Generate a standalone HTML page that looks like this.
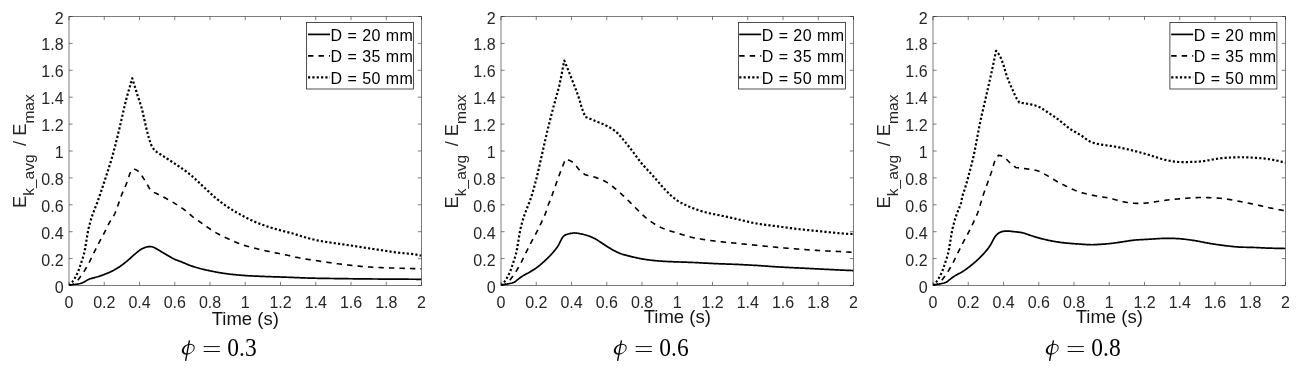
<!DOCTYPE html>
<html><head><meta charset="utf-8"><style>
html,body{margin:0;padding:0;background:#fff;}
body{width:1300px;height:371px;overflow:hidden;}
svg{display:block;}
#w{width:1300px;height:371px;will-change:transform;}
text{font-family:"Liberation Sans",sans-serif;}
.cap{font-family:"Liberation Serif",serif;}
</style></head><body><div id="w">
<svg width="1300" height="371" viewBox="0 0 1300 371">
<rect x="0" y="0" width="1300" height="371" fill="#fff"/>

<path d="M69.00 285.50V281.90M69.00 16.50V20.10M69.00 285.50H72.60M421.50 285.50H417.90M104.25 285.50V281.90M104.25 16.50V20.10M69.00 258.60H72.60M421.50 258.60H417.90M139.50 285.50V281.90M139.50 16.50V20.10M69.00 231.70H72.60M421.50 231.70H417.90M174.75 285.50V281.90M174.75 16.50V20.10M69.00 204.80H72.60M421.50 204.80H417.90M210.00 285.50V281.90M210.00 16.50V20.10M69.00 177.90H72.60M421.50 177.90H417.90M245.25 285.50V281.90M245.25 16.50V20.10M69.00 151.00H72.60M421.50 151.00H417.90M280.50 285.50V281.90M280.50 16.50V20.10M69.00 124.10H72.60M421.50 124.10H417.90M315.75 285.50V281.90M315.75 16.50V20.10M69.00 97.20H72.60M421.50 97.20H417.90M351.00 285.50V281.90M351.00 16.50V20.10M69.00 70.30H72.60M421.50 70.30H417.90M386.25 285.50V281.90M386.25 16.50V20.10M69.00 43.40H72.60M421.50 43.40H417.90M421.50 285.50V281.90M421.50 16.50V20.10M69.00 16.50H72.60M421.50 16.50H417.90" stroke="#262626" stroke-width="0.6" fill="none"/>
<rect x="69.00" y="16.50" width="352.50" height="269.00" fill="none" stroke="#262626" stroke-width="0.6"/>
<g font-size="16" fill="#262626"><text x="69.00" y="307.70" text-anchor="middle">0</text><text x="63.60" y="292.50" text-anchor="end">0</text><text x="104.25" y="307.70" text-anchor="middle">0.2</text><text x="63.60" y="265.60" text-anchor="end">0.2</text><text x="139.50" y="307.70" text-anchor="middle">0.4</text><text x="63.60" y="238.70" text-anchor="end">0.4</text><text x="174.75" y="307.70" text-anchor="middle">0.6</text><text x="63.60" y="211.80" text-anchor="end">0.6</text><text x="210.00" y="307.70" text-anchor="middle">0.8</text><text x="63.60" y="184.90" text-anchor="end">0.8</text><text x="245.25" y="307.70" text-anchor="middle">1</text><text x="63.60" y="158.00" text-anchor="end">1</text><text x="280.50" y="307.70" text-anchor="middle">1.2</text><text x="63.60" y="131.10" text-anchor="end">1.2</text><text x="315.75" y="307.70" text-anchor="middle">1.4</text><text x="63.60" y="104.20" text-anchor="end">1.4</text><text x="351.00" y="307.70" text-anchor="middle">1.6</text><text x="63.60" y="77.30" text-anchor="end">1.6</text><text x="386.25" y="307.70" text-anchor="middle">1.8</text><text x="63.60" y="50.40" text-anchor="end">1.8</text><text x="421.50" y="307.70" text-anchor="middle">2</text><text x="63.60" y="23.50" text-anchor="end">2</text></g>
<text x="245.25" y="324.50" font-size="18.5" fill="#141414" text-anchor="middle">Time (s)</text>
<text transform="translate(25.50 151.20) rotate(-90)" font-size="18.4" fill="#262626" text-anchor="middle">E<tspan font-size="15.5" dy="8.7">k_avg</tspan><tspan dy="-8.7" dx="3.3"> / E</tspan><tspan font-size="15.5" dy="8.7">max</tspan></text>
<clipPath id="clip0"><rect x="69.00" y="16.50" width="352.50" height="269.00"/></clipPath>
<g clip-path="url(#clip0)" fill="none" stroke="#000">
<path d="M69.00 284.96 L69.88 284.90 L70.76 284.83 L71.64 284.76 L72.50 284.69 L73.43 284.60 L74.39 284.50 L75.34 284.39 L76.27 284.28 L77.11 284.16 L77.93 284.04 L78.71 283.89 L79.48 283.73 L80.46 283.46 L81.44 283.14 L82.37 282.77 L83.27 282.37 L84.13 281.92 L84.99 281.43 L85.85 280.90 L86.72 280.37 L87.58 279.89 L88.36 279.51 L89.19 279.16 L90.19 278.80 L90.89 278.57 L91.70 278.34 L92.62 278.10 L93.64 277.84 L94.71 277.57 L95.78 277.29 L96.83 277.00 L97.81 276.72 L98.63 276.46 L99.44 276.20 L100.27 275.92 L101.10 275.63 L101.95 275.33 L102.79 275.03 L103.63 274.71 L104.46 274.39 L105.30 274.07 L106.15 273.73 L107.00 273.38 L107.84 273.03 L108.69 272.67 L109.53 272.30 L110.37 271.92 L111.20 271.53 L112.03 271.12 L112.86 270.70 L113.71 270.26 L114.57 269.79 L115.42 269.30 L116.27 268.81 L117.12 268.29 L117.96 267.77 L118.81 267.23 L119.66 266.67 L120.49 266.10 L121.25 265.56 L122.00 265.02 L122.76 264.46 L123.52 263.88 L124.28 263.28 L125.03 262.68 L125.79 262.07 L126.55 261.45 L127.31 260.82 L128.06 260.19 L128.74 259.60 L129.43 259.01 L130.13 258.39 L130.83 257.75 L131.53 257.11 L132.23 256.48 L132.92 255.85 L133.61 255.23 L134.28 254.64 L134.92 254.09 L135.56 253.54 L136.38 252.87 L137.21 252.18 L138.03 251.52 L138.82 250.90 L139.60 250.32 L140.39 249.78 L141.16 249.29 L141.96 248.84 L142.84 248.39 L143.79 247.97 L144.75 247.59 L145.70 247.27 L146.63 247.01 L147.50 246.82 L148.34 246.69 L149.25 246.60 L150.12 246.59 L150.96 246.64 L151.81 246.77 L152.69 246.98 L153.47 247.24 L154.26 247.57 L155.07 247.97 L155.91 248.44 L156.79 248.95 L157.68 249.48 L158.57 250.01 L159.34 250.46 L160.13 250.93 L160.96 251.43 L161.81 251.95 L162.69 252.49 L163.55 253.02 L164.42 253.54 L165.28 254.06 L166.12 254.57 L166.95 255.06 L167.80 255.57 L168.65 256.08 L169.52 256.59 L170.38 257.09 L171.23 257.57 L172.07 258.03 L172.88 258.44 L173.70 258.84 L174.62 259.25 L175.51 259.62 L176.35 259.94 L177.21 260.26 L178.10 260.58 L179.06 260.93 L180.07 261.32 L180.87 261.64 L181.69 261.98 L182.57 262.35 L183.48 262.74 L184.42 263.15 L185.38 263.56 L186.33 263.96 L187.29 264.36 L188.26 264.75 L189.20 265.12 L190.13 265.46 L191.01 265.78 L191.88 266.09 L192.77 266.39 L193.66 266.68 L194.56 266.97 L195.45 267.25 L196.35 267.52 L197.25 267.79 L198.15 268.05 L199.06 268.30 L199.97 268.55 L200.87 268.79 L201.75 269.01 L202.63 269.23 L203.50 269.44 L204.38 269.64 L205.27 269.84 L206.16 270.04 L207.08 270.23 L208.03 270.43 L209.04 270.64 L210.05 270.85 L210.89 271.02 L211.72 271.19 L212.57 271.36 L213.46 271.53 L214.36 271.71 L215.28 271.89 L216.20 272.06 L217.13 272.24 L218.08 272.41 L219.04 272.58 L220.01 272.75 L221.00 272.91 L221.98 273.07 L223.00 273.23 L224.03 273.39 L225.04 273.53 L225.92 273.65 L226.78 273.77 L227.68 273.88 L228.60 274.00 L229.54 274.11 L230.49 274.22 L231.44 274.32 L232.39 274.43 L233.36 274.53 L234.34 274.63 L235.31 274.72 L236.30 274.82 L237.29 274.91 L238.27 274.99 L239.25 275.08 L240.24 275.17 L241.22 275.25 L242.18 275.32 L243.15 275.40 L244.09 275.47 L245.05 275.54 L246.06 275.61 L247.06 275.68 L248.06 275.75 L249.06 275.80 L250.05 275.86 L251.05 275.91 L252.04 275.96 L253.04 276.01 L254.03 276.06 L255.03 276.10 L256.02 276.14 L257.02 276.18 L258.01 276.22 L259.01 276.26 L260.01 276.30 L261.00 276.33 L262.00 276.37 L263.01 276.41 L264.02 276.45 L265.03 276.49 L265.98 276.53 L266.90 276.56 L267.84 276.60 L268.78 276.63 L269.72 276.66 L270.66 276.70 L271.60 276.73 L272.54 276.76 L273.48 276.79 L274.42 276.82 L275.36 276.85 L276.31 276.88 L277.26 276.90 L278.22 276.93 L279.16 276.96 L280.13 277.00 L281.10 277.03 L282.08 277.06 L283.08 277.09 L284.10 277.13 L285.11 277.16 L286.05 277.20 L286.98 277.23 L287.93 277.27 L288.90 277.31 L289.88 277.34 L290.88 277.38 L291.88 277.42 L292.88 277.47 L293.88 277.51 L294.89 277.55 L295.90 277.59 L296.91 277.63 L297.92 277.67 L298.94 277.71 L299.95 277.75 L300.97 277.79 L301.98 277.83 L302.99 277.87 L304.00 277.91 L305.00 277.94 L306.00 277.98 L307.00 278.01 L307.98 278.04 L308.96 278.07 L309.93 278.10 L310.93 278.13 L311.94 278.15 L312.92 278.18 L313.89 278.20 L314.86 278.22 L315.80 278.24 L316.76 278.26 L317.71 278.28 L318.65 278.30 L319.60 278.31 L320.55 278.33 L321.50 278.35 L322.46 278.36 L323.40 278.37 L324.37 278.39 L325.34 278.40 L326.32 278.42 L327.33 278.43 L328.33 278.45 L329.34 278.46 L330.40 278.48 L331.49 278.49 L332.58 278.51 L333.46 278.52 L334.30 278.53 L335.18 278.55 L336.07 278.56 L336.97 278.57 L337.88 278.59 L338.79 278.60 L339.70 278.61 L340.62 278.62 L341.55 278.64 L342.47 278.65 L343.41 278.66 L344.35 278.67 L345.29 278.69 L346.24 278.70 L347.19 278.71 L348.15 278.72 L349.13 278.74 L350.11 278.75 L351.11 278.76 L352.10 278.77 L353.10 278.78 L354.11 278.80 L355.13 278.81 L356.16 278.82 L357.20 278.83 L358.24 278.84 L359.30 278.85 L360.36 278.86 L361.44 278.88 L362.55 278.89 L363.73 278.90 L364.87 278.91 L365.70 278.92 L366.52 278.93 L367.35 278.93 L368.23 278.94 L369.13 278.95 L370.04 278.96 L370.95 278.97 L371.87 278.97 L372.80 278.98 L373.74 278.99 L374.69 279.00 L375.64 279.00 L376.60 279.01 L377.55 279.02 L378.52 279.03 L379.50 279.03 L380.48 279.04 L381.49 279.05 L382.48 279.06 L383.48 279.06 L384.48 279.07 L385.49 279.08 L386.50 279.08 L387.51 279.09 L388.53 279.10 L389.56 279.10 L390.58 279.11 L391.61 279.12 L392.64 279.12 L393.67 279.13 L394.71 279.14 L395.75 279.14 L396.79 279.15 L397.83 279.16 L398.87 279.16 L399.91 279.17 L400.95 279.18 L401.99 279.18 L403.04 279.19 L404.08 279.20 L405.12 279.20 L406.16 279.21 L407.20 279.22 L408.24 279.22 L409.28 279.23 L410.31 279.24 L411.34 279.24 L412.38 279.25 L413.40 279.26 L414.43 279.26 L415.45 279.27 L416.47 279.28 L417.49 279.29 L418.50 279.29 L419.50 279.30 L420.50 279.31 L421.50 279.31" stroke-width="1.7" stroke-linejoin="round"/>
<path d="M69.00 285.50 L69.87 285.30 L70.73 285.08 L71.63 284.81 L72.47 284.54 L73.36 284.20 L74.26 283.77 L75.11 283.23 L75.75 282.71 L76.36 282.08 L76.98 281.34 L77.62 280.50 L78.27 279.61 L78.91 278.74 L79.44 278.02 L79.99 277.27 L80.56 276.49 L81.13 275.69 L81.73 274.85 L82.31 274.01 L82.90 273.14 L83.47 272.28 L83.99 271.48 L84.49 270.69 L84.98 269.91 L85.48 269.09 L85.98 268.26 L86.48 267.40 L87.00 266.49 L87.54 265.53 L88.07 264.56 L88.46 263.84 L88.84 263.11 L89.24 262.34 L89.65 261.53 L90.07 260.70 L90.49 259.85 L90.90 258.99 L91.32 258.13 L91.74 257.26 L92.17 256.39 L92.59 255.52 L93.01 254.66 L93.42 253.82 L93.84 252.98 L94.27 252.11 L94.72 251.22 L95.17 250.31 L95.62 249.40 L96.07 248.49 L96.53 247.58 L96.98 246.68 L97.44 245.76 L97.89 244.87 L98.33 243.99 L98.77 243.13 L99.19 242.31 L99.61 241.51 L100.02 240.73 L100.49 239.84 L100.96 238.98 L101.40 238.16 L101.84 237.38 L102.26 236.61 L102.69 235.85 L103.11 235.08 L103.54 234.30 L103.97 233.50 L104.40 232.66 L104.83 231.82 L105.26 230.95 L105.69 230.07 L106.12 229.18 L106.55 228.26 L106.98 227.36 L107.41 226.46 L107.85 225.55 L108.30 224.66 L108.76 223.79 L109.22 222.93 L109.67 222.14 L110.15 221.35 L110.64 220.57 L111.14 219.79 L111.65 219.01 L112.15 218.24 L112.65 217.46 L113.13 216.69 L113.59 215.91 L114.03 215.13 L114.44 214.34 L114.85 213.50 L115.23 212.66 L115.58 211.83 L115.91 211.00 L116.22 210.17 L116.53 209.33 L116.84 208.47 L117.16 207.58 L117.49 206.67 L117.82 205.73 L118.13 204.89 L118.43 204.03 L118.75 203.12 L119.07 202.19 L119.40 201.24 L119.73 200.28 L120.05 199.32 L120.38 198.36 L120.72 197.39 L121.06 196.45 L121.39 195.53 L121.73 194.64 L122.06 193.78 L122.44 192.85 L122.82 191.95 L123.20 191.07 L123.57 190.22 L123.96 189.37 L124.34 188.53 L124.72 187.70 L125.10 186.84 L125.49 185.95 L125.88 185.03 L126.26 184.09 L126.60 183.22 L126.94 182.29 L127.28 181.30 L127.63 180.26 L127.98 179.20 L128.32 178.14 L128.67 177.08 L129.02 176.03 L129.38 175.02 L129.73 174.06 L130.09 173.19 L130.42 172.46 L130.75 171.83 L131.10 171.27 L131.71 170.44 L132.32 169.72 L132.88 169.20 L133.51 168.62 L134.31 169.01 L135.11 169.36 L135.90 169.75 L136.65 170.16 L137.44 170.66 L138.22 171.25 L138.82 171.80 L139.41 172.42 L140.00 173.14 L140.60 173.93 L141.20 174.77 L141.79 175.66 L142.38 176.56 L142.96 177.48 L143.54 178.39 L144.11 179.29 L144.60 180.07 L145.09 180.87 L145.59 181.69 L146.09 182.53 L146.60 183.40 L147.10 184.26 L147.59 185.13 L148.09 186.00 L148.59 186.88 L149.08 187.75 L149.58 188.61 L150.07 189.47 L150.67 190.10 L151.31 190.71 L152.11 191.30 L152.71 191.69 L153.38 192.08 L154.15 192.47 L155.04 192.88 L156.01 193.34 L156.99 193.80 L157.73 194.16 L158.48 194.54 L159.31 194.95 L160.19 195.40 L161.11 195.86 L162.05 196.34 L162.99 196.82 L163.92 197.30 L164.87 197.80 L165.80 198.30 L166.70 198.78 L167.49 199.22 L168.28 199.65 L169.07 200.10 L169.87 200.55 L170.68 201.00 L171.48 201.47 L172.28 201.93 L173.09 202.41 L173.89 202.89 L174.70 203.38 L175.50 203.88 L176.31 204.38 L177.12 204.90 L177.96 205.44 L178.83 206.00 L179.69 206.57 L180.56 207.15 L181.43 207.73 L182.29 208.32 L183.15 208.91 L183.98 209.50 L184.78 210.07 L185.54 210.63 L186.23 211.15 L186.90 211.68 L187.67 212.31 L188.36 212.91 L188.98 213.47 L189.55 214.00 L190.13 214.54 L190.76 215.11 L191.46 215.72 L192.23 216.37 L192.86 216.87 L193.50 217.37 L194.19 217.88 L194.91 218.41 L195.67 218.96 L196.43 219.51 L197.23 220.07 L198.03 220.64 L198.85 221.20 L199.68 221.78 L200.50 222.35 L201.34 222.92 L202.17 223.49 L202.98 224.06 L203.74 224.58 L204.49 225.11 L205.26 225.65 L206.04 226.20 L206.84 226.75 L207.64 227.31 L208.45 227.87 L209.27 228.44 L210.08 228.99 L210.90 229.54 L211.73 230.09 L212.55 230.62 L213.37 231.15 L214.19 231.66 L215.00 232.15 L215.80 232.62 L216.66 233.11 L217.52 233.59 L218.39 234.06 L219.27 234.52 L220.14 234.97 L221.00 235.41 L221.86 235.83 L222.74 236.25 L223.61 236.67 L224.49 237.08 L225.36 237.49 L226.24 237.90 L227.10 238.29 L227.96 238.69 L228.83 239.08 L229.75 239.50 L230.68 239.92 L231.59 240.33 L232.49 240.74 L233.39 241.14 L234.30 241.53 L235.20 241.92 L236.11 242.30 L237.02 242.68 L237.94 243.05 L238.87 243.42 L239.82 243.78 L240.78 244.13 L241.76 244.48 L242.66 244.79 L243.55 245.08 L244.47 245.38 L245.39 245.66 L246.33 245.95 L247.29 246.23 L248.24 246.51 L249.20 246.77 L250.16 247.04 L251.12 247.30 L252.09 247.55 L253.05 247.80 L254.02 248.05 L254.98 248.30 L255.95 248.54 L256.90 248.78 L257.85 249.02 L258.78 249.25 L259.71 249.47 L260.64 249.68 L261.58 249.90 L262.51 250.11 L263.45 250.32 L264.39 250.52 L265.33 250.72 L266.26 250.92 L267.21 251.12 L268.16 251.33 L269.11 251.53 L270.09 251.73 L271.07 251.94 L272.05 252.15 L272.98 252.34 L273.92 252.53 L274.88 252.73 L275.86 252.93 L276.85 253.13 L277.84 253.33 L278.84 253.53 L279.83 253.73 L280.83 253.92 L281.82 254.12 L282.81 254.32 L283.80 254.51 L284.77 254.71 L285.73 254.90 L286.66 255.09 L287.55 255.27 L288.39 255.45 L289.25 255.63 L290.31 255.86 L291.36 256.10 L292.34 256.32 L293.28 256.54 L294.19 256.75 L295.08 256.96 L295.98 257.17 L296.87 257.37 L297.79 257.58 L298.76 257.79 L299.77 257.99 L300.82 258.20 L301.71 258.36 L302.59 258.52 L303.51 258.68 L304.44 258.83 L305.40 258.99 L306.37 259.14 L307.35 259.29 L308.34 259.44 L309.33 259.59 L310.33 259.74 L311.32 259.88 L312.32 260.03 L313.32 260.18 L314.31 260.32 L315.32 260.47 L316.31 260.62 L317.25 260.77 L318.19 260.91 L319.12 261.05 L320.07 261.20 L321.02 261.34 L321.98 261.49 L322.93 261.64 L323.89 261.78 L324.85 261.93 L325.80 262.07 L326.76 262.21 L327.72 262.36 L328.68 262.50 L329.63 262.63 L330.59 262.77 L331.55 262.91 L332.50 263.04 L333.44 263.17 L334.39 263.30 L335.33 263.42 L336.27 263.55 L337.21 263.67 L338.16 263.79 L339.10 263.92 L340.04 264.04 L340.98 264.15 L341.92 264.27 L342.87 264.39 L343.81 264.50 L344.75 264.62 L345.70 264.73 L346.64 264.84 L347.58 264.95 L348.53 265.05 L349.48 265.16 L350.43 265.27 L351.39 265.37 L352.34 265.48 L353.29 265.58 L354.25 265.68 L355.20 265.78 L356.15 265.88 L357.11 265.98 L358.06 266.07 L359.02 266.16 L359.97 266.25 L360.93 266.34 L361.88 266.43 L362.84 266.51 L363.79 266.59 L364.75 266.67 L365.70 266.74 L366.65 266.81 L367.61 266.88 L368.56 266.94 L369.51 267.01 L370.47 267.07 L371.42 267.12 L372.38 267.18 L373.33 267.23 L374.28 267.28 L375.24 267.33 L376.19 267.38 L377.15 267.43 L378.10 267.48 L379.06 267.52 L380.01 267.57 L380.97 267.61 L381.92 267.65 L382.86 267.69 L383.79 267.73 L384.71 267.76 L385.63 267.80 L386.55 267.83 L387.47 267.86 L388.39 267.89 L389.32 267.92 L390.25 267.95 L391.18 267.97 L392.14 268.00 L393.10 268.03 L394.08 268.06 L395.13 268.09 L396.19 268.12 L397.25 268.15 L398.11 268.18 L398.96 268.20 L399.85 268.23 L400.77 268.26 L401.71 268.28 L402.66 268.31 L403.60 268.34 L404.57 268.36 L405.55 268.39 L406.53 268.42 L407.53 268.44 L408.53 268.47 L409.53 268.50 L410.53 268.53 L411.53 268.55 L412.54 268.58 L413.55 268.61 L414.55 268.63 L415.56 268.66 L416.56 268.69 L417.56 268.71 L418.56 268.74 L419.54 268.77 L420.53 268.80 L421.50 268.82" stroke-width="1.6" stroke-dasharray="5.4 5.1" stroke-linejoin="round"/>
<path d="M69.00 285.50 L69.23 285.19 L69.49 284.90 L69.89 284.52 L70.39 284.03 L70.95 283.44 L71.49 282.84 L72.07 282.14 L72.69 281.34 L73.31 280.47 L73.92 279.59 L74.47 278.72 L74.95 277.95 L75.39 277.18 L75.85 276.36 L76.29 275.51 L76.74 274.62 L77.20 273.65 L77.64 272.67 L77.98 271.86 L78.33 271.00 L78.66 270.11 L79.01 269.17 L79.35 268.19 L79.68 267.22 L80.01 266.23 L80.34 265.24 L80.68 264.24 L81.00 263.26 L81.30 262.38 L81.60 261.49 L81.90 260.60 L82.21 259.69 L82.51 258.78 L82.81 257.86 L83.10 256.94 L83.38 256.02 L83.64 255.10 L83.90 254.18 L84.13 253.25 L84.36 252.28 L84.58 251.28 L84.78 250.27 L84.97 249.26 L85.15 248.24 L85.32 247.23 L85.49 246.21 L85.64 245.22 L85.80 244.27 L85.95 243.35 L86.10 242.47 L86.26 241.47 L86.43 240.48 L86.58 239.54 L86.73 238.63 L86.88 237.74 L87.03 236.87 L87.17 236.01 L87.32 235.13 L87.49 234.12 L87.68 233.07 L87.87 231.99 L88.05 230.98 L88.23 230.01 L88.41 229.12 L88.59 228.31 L88.80 227.41 L89.01 226.56 L89.22 225.79 L89.44 224.98 L89.71 224.05 L89.96 223.12 L90.22 222.17 L90.48 221.25 L90.74 220.32 L91.01 219.39 L91.29 218.47 L91.58 217.56 L91.86 216.69 L92.15 215.84 L92.45 214.99 L92.75 214.15 L93.06 213.30 L93.38 212.44 L93.71 211.56 L94.05 210.68 L94.36 209.88 L94.66 209.12 L94.96 208.39 L95.26 207.64 L95.57 206.89 L95.90 206.07 L96.26 205.17 L96.65 204.15 L97.06 203.06 L97.31 202.40 L97.55 201.73 L97.81 201.01 L98.09 200.22 L98.38 199.39 L98.68 198.53 L98.99 197.66 L99.30 196.76 L99.62 195.83 L99.94 194.89 L100.27 193.92 L100.60 192.95 L100.93 191.97 L101.26 190.97 L101.60 189.97 L101.93 188.97 L102.27 187.96 L102.60 186.95 L102.94 185.93 L103.27 184.92 L103.60 183.91 L103.94 182.88 L104.27 181.88 L104.55 181.00 L104.84 180.13 L105.13 179.25 L105.42 178.35 L105.72 177.43 L106.03 176.51 L106.33 175.57 L106.64 174.63 L106.94 173.68 L107.25 172.74 L107.56 171.79 L107.86 170.84 L108.17 169.88 L108.48 168.92 L108.78 167.96 L109.09 166.99 L109.39 166.02 L109.70 165.05 L110.00 164.08 L110.30 163.11 L110.60 162.13 L110.89 161.16 L111.19 160.19 L111.48 159.21 L111.77 158.24 L112.05 157.27 L112.33 156.29 L112.61 155.32 L112.89 154.35 L113.15 153.41 L113.41 152.46 L113.67 151.50 L113.93 150.54 L114.19 149.57 L114.44 148.61 L114.70 147.64 L114.95 146.66 L115.20 145.69 L115.45 144.71 L115.69 143.74 L115.93 142.76 L116.18 141.78 L116.42 140.80 L116.66 139.83 L116.90 138.85 L117.13 137.88 L117.37 136.90 L117.60 135.93 L117.83 134.96 L118.07 133.99 L118.30 133.02 L118.53 132.06 L118.76 131.10 L118.99 130.13 L119.21 129.18 L119.44 128.25 L119.66 127.31 L119.88 126.40 L120.10 125.48 L120.35 124.47 L120.58 123.47 L120.82 122.48 L121.04 121.50 L121.27 120.52 L121.49 119.54 L121.72 118.57 L121.94 117.60 L122.15 116.64 L122.37 115.67 L122.59 114.71 L122.80 113.75 L123.02 112.78 L123.24 111.83 L123.46 110.88 L123.67 109.93 L123.89 108.99 L124.11 108.05 L124.33 107.10 L124.55 106.16 L124.77 105.23 L125.00 104.29 L125.23 103.36 L125.46 102.43 L125.69 101.51 L125.93 100.59 L126.18 99.63 L126.43 98.67 L126.69 97.69 L126.95 96.75 L127.21 95.81 L127.47 94.87 L127.72 93.95 L127.99 93.02 L128.25 92.09 L128.52 91.16 L128.79 90.24 L129.05 89.31 L129.32 88.39 L129.59 87.47 L129.86 86.55 L130.13 85.63 L130.40 84.71 L130.67 83.79 L130.94 82.86 L131.21 81.94 L131.47 81.03 L131.74 80.11 L132.01 79.17 L132.27 78.24 L132.56 79.17 L132.85 80.11 L133.13 81.05 L133.41 81.96 L133.70 82.90 L133.98 83.83 L134.26 84.76 L134.54 85.68 L134.83 86.61 L135.11 87.54 L135.40 88.47 L135.69 89.42 L135.98 90.37 L136.28 91.31 L136.57 92.25 L136.87 93.19 L137.15 94.07 L137.44 94.97 L137.73 95.87 L138.03 96.78 L138.34 97.69 L138.65 98.61 L138.95 99.52 L139.26 100.44 L139.57 101.35 L139.87 102.26 L140.16 103.17 L140.46 104.07 L140.74 104.97 L141.02 105.87 L141.28 106.74 L141.53 107.60 L141.77 108.45 L142.03 109.42 L142.28 110.41 L142.53 111.38 L142.76 112.37 L142.98 113.33 L143.20 114.28 L143.40 115.23 L143.61 116.15 L143.81 117.08 L144.00 118.00 L144.20 118.91 L144.39 119.78 L144.58 120.62 L144.77 121.47 L145.01 122.52 L145.26 123.57 L145.49 124.59 L145.72 125.56 L145.94 126.53 L146.16 127.47 L146.39 128.41 L146.62 129.35 L146.85 130.29 L147.08 131.24 L147.32 132.16 L147.55 133.08 L147.79 134.01 L148.03 134.95 L148.28 135.87 L148.53 136.79 L148.78 137.68 L149.03 138.54 L149.27 139.35 L149.53 140.16 L149.86 141.19 L150.20 142.22 L150.54 143.23 L150.89 144.16 L151.26 145.06 L151.66 145.92 L152.08 146.72 L152.53 147.47 L152.98 148.15 L153.45 148.78 L153.96 149.40 L154.55 150.04 L155.21 150.68 L155.84 151.23 L156.52 151.77 L157.26 152.30 L158.06 152.83 L158.90 153.37 L159.76 153.91 L160.66 154.47 L161.57 155.04 L162.46 155.61 L163.21 156.10 L163.96 156.59 L164.74 157.10 L165.56 157.64 L166.40 158.18 L167.25 158.74 L168.10 159.29 L168.94 159.84 L169.79 160.39 L170.63 160.95 L171.47 161.49 L172.30 162.04 L173.11 162.57 L173.92 163.10 L174.74 163.64 L175.54 164.16 L176.35 164.69 L177.16 165.23 L177.97 165.76 L178.78 166.30 L179.59 166.84 L180.39 167.39 L181.19 167.94 L181.99 168.50 L182.77 169.04 L183.53 169.59 L184.29 170.12 L185.04 170.66 L185.78 171.20 L186.53 171.75 L187.28 172.31 L188.02 172.87 L188.78 173.46 L189.56 174.07 L190.37 174.73 L191.19 175.40 L191.83 175.94 L192.48 176.49 L193.14 177.08 L193.82 177.68 L194.51 178.31 L195.20 178.94 L195.89 179.59 L196.59 180.24 L197.29 180.90 L197.99 181.57 L198.70 182.24 L199.41 182.91 L200.12 183.58 L200.83 184.25 L201.54 184.92 L202.25 185.58 L202.95 186.24 L203.65 186.89 L204.35 187.54 L205.04 188.19 L205.74 188.86 L206.45 189.53 L207.16 190.20 L207.88 190.89 L208.59 191.56 L209.31 192.24 L210.02 192.91 L210.75 193.59 L211.47 194.25 L212.19 194.91 L212.92 195.57 L213.64 196.20 L214.36 196.83 L215.09 197.46 L215.82 198.07 L216.57 198.68 L217.32 199.30 L218.08 199.91 L218.84 200.51 L219.60 201.10 L220.36 201.69 L221.13 202.27 L221.90 202.85 L222.66 203.42 L223.44 203.99 L224.21 204.54 L224.98 205.10 L225.76 205.64 L226.53 206.18 L227.30 206.71 L228.05 207.22 L228.82 207.73 L229.68 208.29 L230.54 208.84 L231.41 209.39 L232.26 209.91 L233.11 210.43 L233.97 210.94 L234.82 211.44 L235.68 211.94 L236.54 212.43 L237.40 212.92 L238.26 213.40 L239.13 213.87 L239.99 214.35 L240.86 214.82 L241.73 215.29 L242.59 215.75 L243.45 216.21 L244.31 216.67 L245.19 217.12 L246.06 217.57 L246.92 218.02 L247.79 218.46 L248.65 218.89 L249.53 219.32 L250.40 219.74 L251.27 220.15 L252.15 220.56 L253.01 220.96 L253.87 221.35 L254.74 221.73 L255.66 222.12 L256.60 222.52 L257.51 222.89 L258.43 223.26 L259.34 223.62 L260.26 223.97 L261.18 224.32 L262.09 224.66 L263.01 224.99 L263.94 225.32 L264.86 225.64 L265.79 225.97 L266.72 226.28 L267.65 226.59 L268.57 226.89 L269.49 227.18 L270.41 227.47 L271.34 227.75 L272.28 228.02 L273.21 228.29 L274.14 228.56 L275.08 228.82 L276.01 229.08 L276.95 229.34 L277.88 229.59 L278.81 229.85 L279.75 230.10 L280.66 230.35 L281.58 230.60 L282.53 230.85 L283.48 231.10 L284.46 231.35 L285.43 231.60 L286.41 231.85 L287.37 232.09 L288.33 232.33 L289.27 232.57 L290.18 232.81 L291.07 233.04 L291.91 233.27 L292.71 233.49 L293.50 233.72 L294.52 234.02 L295.47 234.31 L296.31 234.58 L297.11 234.84 L297.91 235.10 L298.78 235.38 L299.77 235.69 L300.85 236.02 L301.58 236.24 L302.32 236.46 L303.10 236.69 L303.95 236.93 L304.84 237.19 L305.74 237.45 L306.67 237.71 L307.62 237.98 L308.58 238.24 L309.56 238.51 L310.53 238.77 L311.50 239.02 L312.48 239.27 L313.46 239.51 L314.42 239.75 L315.37 239.96 L316.30 240.17 L317.22 240.36 L318.16 240.55 L319.11 240.74 L320.06 240.91 L321.01 241.08 L321.96 241.25 L322.92 241.41 L323.88 241.56 L324.84 241.71 L325.80 241.86 L326.75 242.00 L327.71 242.15 L328.67 242.29 L329.63 242.43 L330.59 242.58 L331.55 242.72 L332.50 242.86 L333.44 243.01 L334.39 243.15 L335.33 243.28 L336.27 243.42 L337.21 243.56 L338.16 243.69 L339.10 243.82 L340.04 243.95 L340.98 244.08 L341.93 244.21 L342.87 244.34 L343.81 244.47 L344.75 244.60 L345.70 244.74 L346.64 244.87 L347.58 245.01 L348.53 245.15 L349.48 245.30 L350.43 245.44 L351.39 245.59 L352.34 245.74 L353.30 245.89 L354.25 246.04 L355.20 246.19 L356.16 246.34 L357.11 246.50 L358.07 246.65 L359.02 246.80 L359.98 246.96 L360.93 247.11 L361.89 247.26 L362.84 247.41 L363.79 247.56 L364.75 247.70 L365.70 247.85 L366.66 248.00 L367.61 248.14 L368.56 248.28 L369.52 248.43 L370.47 248.57 L371.42 248.71 L372.38 248.85 L373.33 248.99 L374.29 249.14 L375.24 249.28 L376.19 249.42 L377.15 249.56 L378.10 249.70 L379.05 249.84 L380.01 249.98 L380.96 250.13 L381.92 250.27 L382.87 250.42 L383.82 250.57 L384.78 250.71 L385.73 250.86 L386.68 251.01 L387.64 251.16 L388.59 251.31 L389.54 251.46 L390.50 251.61 L391.45 251.75 L392.41 251.89 L393.36 252.03 L394.31 252.16 L395.27 252.30 L396.21 252.42 L397.16 252.54 L398.11 252.65 L399.09 252.76 L400.10 252.87 L401.10 252.97 L402.11 253.06 L403.13 253.15 L404.14 253.24 L405.14 253.33 L406.16 253.42 L407.15 253.50 L408.13 253.59 L409.08 253.68 L410.01 253.77 L410.91 253.87 L411.75 253.96 L412.54 254.06 L413.32 254.16 L414.39 254.32 L415.42 254.49 L416.35 254.65 L417.23 254.81 L418.07 254.98 L418.88 255.13 L419.73 255.30 L420.61 255.47 L421.50 255.64" stroke-width="2.2" stroke-dasharray="2.2 2.14" stroke-linejoin="round"/>
</g>
<rect x="306.50" y="22.50" width="107.00" height="66.50" fill="#fff" stroke="#262626" stroke-width="0.8"/>
<path d="M308.00 34.40H330.00" stroke="#000" stroke-width="1.7" fill="none"/>
<text x="330.50" y="40.50" font-size="16" letter-spacing="0.47" fill="#000">D = 20 mm</text>
<path d="M308.00 55.90H330.00" stroke="#000" stroke-width="1.6" stroke-dasharray="5.4 5.1" fill="none"/>
<text x="330.50" y="62.00" font-size="16" letter-spacing="0.47" fill="#000">D = 35 mm</text>
<path d="M308.00 77.40H330.00" stroke="#000" stroke-width="2.2" stroke-dasharray="2.2 2.14" fill="none"/>
<text x="330.50" y="83.50" font-size="16" letter-spacing="0.47" fill="#000">D = 50 mm</text>
<path fill="#000" fill-rule="evenodd" transform="translate(188.20 349.2) skewX(-20)" d="M-6.20 0.00a6.20 5.45 0 1 0 12.40 0a6.20 5.45 0 1 0 -12.40 0ZM-4.20 -0.10a4.75 4.35 0 1 0 9.50 0a4.75 4.35 0 1 0 -9.50 0Z"/>
<path d="M189.45 340.3L185.60 360.8" stroke="#000" stroke-width="1.35" fill="none"/>
<path d="M203.70 346.6H219.90M203.70 351.5H219.90" stroke="#000" stroke-width="0.95" fill="none"/>
<text class="cap" transform="translate(227.30 355.6) scale(0.9 1)" font-size="26.1" fill="#000">0.3</text>
<path d="M501.00 285.50V281.90M501.00 16.50V20.10M501.00 285.50H504.60M853.50 285.50H849.90M536.25 285.50V281.90M536.25 16.50V20.10M501.00 258.60H504.60M853.50 258.60H849.90M571.50 285.50V281.90M571.50 16.50V20.10M501.00 231.70H504.60M853.50 231.70H849.90M606.75 285.50V281.90M606.75 16.50V20.10M501.00 204.80H504.60M853.50 204.80H849.90M642.00 285.50V281.90M642.00 16.50V20.10M501.00 177.90H504.60M853.50 177.90H849.90M677.25 285.50V281.90M677.25 16.50V20.10M501.00 151.00H504.60M853.50 151.00H849.90M712.50 285.50V281.90M712.50 16.50V20.10M501.00 124.10H504.60M853.50 124.10H849.90M747.75 285.50V281.90M747.75 16.50V20.10M501.00 97.20H504.60M853.50 97.20H849.90M783.00 285.50V281.90M783.00 16.50V20.10M501.00 70.30H504.60M853.50 70.30H849.90M818.25 285.50V281.90M818.25 16.50V20.10M501.00 43.40H504.60M853.50 43.40H849.90M853.50 285.50V281.90M853.50 16.50V20.10M501.00 16.50H504.60M853.50 16.50H849.90" stroke="#262626" stroke-width="0.6" fill="none"/>
<rect x="501.00" y="16.50" width="352.50" height="269.00" fill="none" stroke="#262626" stroke-width="0.6"/>
<g font-size="16" fill="#262626"><text x="501.00" y="307.70" text-anchor="middle">0</text><text x="495.60" y="292.50" text-anchor="end">0</text><text x="536.25" y="307.70" text-anchor="middle">0.2</text><text x="495.60" y="265.60" text-anchor="end">0.2</text><text x="571.50" y="307.70" text-anchor="middle">0.4</text><text x="495.60" y="238.70" text-anchor="end">0.4</text><text x="606.75" y="307.70" text-anchor="middle">0.6</text><text x="495.60" y="211.80" text-anchor="end">0.6</text><text x="642.00" y="307.70" text-anchor="middle">0.8</text><text x="495.60" y="184.90" text-anchor="end">0.8</text><text x="677.25" y="307.70" text-anchor="middle">1</text><text x="495.60" y="158.00" text-anchor="end">1</text><text x="712.50" y="307.70" text-anchor="middle">1.2</text><text x="495.60" y="131.10" text-anchor="end">1.2</text><text x="747.75" y="307.70" text-anchor="middle">1.4</text><text x="495.60" y="104.20" text-anchor="end">1.4</text><text x="783.00" y="307.70" text-anchor="middle">1.6</text><text x="495.60" y="77.30" text-anchor="end">1.6</text><text x="818.25" y="307.70" text-anchor="middle">1.8</text><text x="495.60" y="50.40" text-anchor="end">1.8</text><text x="853.50" y="307.70" text-anchor="middle">2</text><text x="495.60" y="23.50" text-anchor="end">2</text></g>
<text x="677.25" y="323.00" font-size="18.5" fill="#141414" text-anchor="middle">Time (s)</text>
<text transform="translate(457.50 151.50) rotate(-90)" font-size="18.4" fill="#262626" text-anchor="middle">E<tspan font-size="15.5" dy="8.7">k_avg</tspan><tspan dy="-8.7" dx="3.3"> / E</tspan><tspan font-size="15.5" dy="8.7">max</tspan></text>
<clipPath id="clip1"><rect x="501.00" y="16.50" width="352.50" height="269.00"/></clipPath>
<g clip-path="url(#clip1)" fill="none" stroke="#000">
<path d="M501.00 284.83 L501.67 284.74 L502.30 284.66 L503.02 284.57 L503.80 284.48 L504.78 284.36 L505.86 284.22 L506.99 284.05 L508.07 283.86 L508.98 283.69 L509.95 283.48 L510.99 283.23 L512.06 282.95 L513.07 282.63 L513.99 282.27 L514.78 281.87 L515.48 281.43 L516.10 280.97 L516.69 280.47 L517.32 279.93 L518.02 279.35 L518.64 278.85 L519.32 278.33 L520.04 277.79 L520.81 277.24 L521.60 276.68 L522.39 276.15 L523.16 275.64 L523.92 275.18 L524.76 274.69 L525.60 274.24 L526.44 273.82 L527.27 273.40 L528.13 272.98 L529.01 272.52 L529.91 272.02 L530.70 271.57 L531.49 271.10 L532.31 270.59 L533.14 270.06 L533.98 269.52 L534.83 268.95 L535.67 268.38 L536.51 267.78 L537.33 267.17 L538.08 266.60 L538.82 266.02 L539.54 265.43 L540.29 264.82 L541.03 264.18 L541.77 263.54 L542.51 262.88 L543.26 262.21 L544.00 261.53 L544.73 260.86 L545.41 260.23 L546.09 259.60 L546.78 258.94 L547.47 258.28 L548.16 257.60 L548.85 256.92 L549.53 256.23 L550.19 255.55 L550.85 254.86 L551.48 254.17 L552.11 253.48 L552.74 252.76 L553.36 252.05 L553.96 251.34 L554.54 250.63 L555.11 249.91 L555.67 249.19 L556.23 248.45 L556.78 247.70 L557.34 246.92 L557.88 246.10 L558.38 245.30 L558.89 244.41 L559.38 243.47 L559.86 242.49 L560.34 241.49 L560.82 240.50 L561.32 239.52 L561.83 238.59 L562.35 237.73 L562.88 236.99 L563.42 236.37 L563.98 235.85 L564.75 235.30 L565.60 234.84 L566.48 234.48 L567.37 234.20 L568.25 233.97 L569.10 233.77 L569.91 233.58 L570.83 233.38 L571.70 233.22 L572.55 233.09 L573.43 233.00 L574.34 232.97 L575.13 232.98 L575.94 233.03 L576.77 233.12 L577.64 233.24 L578.54 233.39 L579.44 233.56 L580.32 233.73 L581.15 233.90 L582.00 234.08 L582.86 234.28 L583.73 234.49 L584.60 234.72 L585.47 234.96 L586.33 235.21 L587.18 235.48 L588.03 235.76 L588.88 236.06 L589.72 236.37 L590.56 236.69 L591.39 237.04 L592.21 237.39 L593.03 237.77 L593.85 238.16 L594.70 238.61 L595.54 239.07 L596.39 239.56 L597.23 240.07 L598.08 240.60 L598.93 241.14 L599.78 241.68 L600.62 242.22 L601.36 242.70 L602.11 243.20 L602.87 243.71 L603.63 244.22 L604.40 244.75 L605.17 245.26 L605.93 245.77 L606.68 246.26 L607.42 246.73 L608.27 247.26 L609.12 247.79 L609.96 248.29 L610.81 248.80 L611.64 249.27 L612.48 249.75 L613.32 250.21 L614.17 250.66 L615.00 251.09 L615.82 251.51 L616.65 251.92 L617.49 252.32 L618.33 252.70 L619.16 253.06 L619.97 253.40 L620.81 253.71 L621.76 254.05 L622.73 254.36 L623.71 254.64 L624.67 254.90 L625.63 255.15 L626.59 255.40 L627.55 255.64 L628.51 255.88 L629.46 256.12 L630.41 256.35 L631.38 256.59 L632.35 256.82 L633.34 257.05 L634.31 257.27 L635.14 257.46 L635.97 257.65 L636.82 257.84 L637.68 258.02 L638.54 258.21 L639.39 258.39 L640.24 258.56 L641.09 258.72 L642.04 258.90 L642.96 259.06 L643.84 259.21 L644.74 259.36 L645.70 259.51 L646.77 259.66 L647.91 259.82 L648.68 259.92 L649.48 260.01 L650.33 260.12 L651.24 260.22 L652.21 260.32 L653.19 260.43 L654.19 260.53 L655.21 260.63 L656.23 260.73 L657.24 260.82 L658.26 260.91 L659.28 261.00 L660.27 261.08 L661.24 261.15 L662.20 261.22 L663.14 261.28 L664.10 261.34 L665.05 261.40 L666.01 261.45 L666.96 261.50 L667.92 261.54 L668.87 261.58 L669.84 261.63 L670.81 261.67 L671.79 261.71 L672.80 261.75 L673.81 261.79 L674.82 261.83 L675.76 261.87 L676.67 261.90 L677.60 261.93 L678.52 261.96 L679.45 262.00 L680.38 262.02 L681.32 262.05 L682.26 262.08 L683.22 262.11 L684.19 262.14 L685.18 262.17 L686.20 262.21 L687.22 262.24 L688.30 262.28 L689.44 262.33 L690.58 262.37 L691.39 262.41 L692.20 262.44 L693.06 262.48 L693.97 262.52 L694.91 262.57 L695.85 262.62 L696.82 262.66 L697.81 262.71 L698.80 262.76 L699.82 262.82 L700.83 262.87 L701.85 262.92 L702.87 262.98 L703.90 263.03 L704.93 263.08 L705.96 263.14 L706.98 263.19 L708.00 263.24 L709.02 263.30 L710.03 263.35 L711.04 263.40 L712.04 263.45 L713.01 263.50 L713.98 263.54 L714.91 263.59 L715.82 263.63 L716.67 263.67 L717.54 263.71 L718.62 263.75 L719.70 263.80 L720.74 263.84 L721.75 263.87 L722.74 263.91 L723.71 263.94 L724.68 263.97 L725.62 264.00 L726.56 264.04 L727.50 264.07 L728.44 264.10 L729.38 264.13 L730.32 264.16 L731.26 264.19 L732.21 264.23 L733.17 264.26 L734.14 264.30 L735.13 264.34 L736.13 264.39 L737.08 264.43 L738.02 264.47 L738.98 264.51 L739.94 264.56 L740.90 264.61 L741.86 264.65 L742.83 264.70 L743.79 264.75 L744.76 264.80 L745.74 264.85 L746.71 264.90 L747.70 264.95 L748.68 265.01 L749.66 265.06 L750.65 265.12 L751.63 265.17 L752.62 265.23 L753.60 265.28 L754.59 265.34 L755.58 265.40 L756.57 265.46 L757.54 265.52 L758.51 265.58 L759.48 265.65 L760.46 265.71 L761.45 265.78 L762.43 265.85 L763.41 265.92 L764.40 265.99 L765.39 266.06 L766.38 266.13 L767.37 266.20 L768.36 266.27 L769.35 266.34 L770.34 266.41 L771.33 266.48 L772.32 266.55 L773.31 266.62 L774.30 266.69 L775.29 266.75 L776.27 266.82 L777.26 266.88 L778.24 266.94 L779.22 266.99 L780.20 267.05 L781.18 267.10 L782.16 267.16 L783.13 267.21 L784.11 267.26 L785.09 267.31 L786.07 267.36 L787.04 267.41 L788.02 267.45 L789.00 267.50 L789.97 267.55 L790.95 267.59 L791.93 267.64 L792.90 267.69 L793.88 267.73 L794.86 267.78 L795.84 267.83 L796.81 267.87 L797.79 267.92 L798.77 267.97 L799.74 268.02 L800.72 268.06 L801.70 268.11 L802.68 268.16 L803.65 268.21 L804.63 268.26 L805.61 268.31 L806.58 268.36 L807.56 268.41 L808.54 268.46 L809.51 268.50 L810.49 268.55 L811.47 268.60 L812.44 268.65 L813.42 268.70 L814.40 268.75 L815.38 268.80 L816.35 268.85 L817.33 268.90 L818.31 268.94 L819.29 268.99 L820.26 269.04 L821.24 269.09 L822.22 269.14 L823.23 269.19 L824.25 269.24 L825.28 269.29 L826.31 269.35 L827.36 269.40 L828.40 269.45 L829.45 269.51 L830.49 269.56 L831.53 269.61 L832.57 269.67 L833.60 269.72 L834.62 269.77 L835.64 269.82 L836.63 269.87 L837.61 269.92 L838.57 269.96 L839.49 270.01 L840.39 270.05 L841.24 270.09 L842.02 270.13 L842.81 270.16 L843.96 270.21 L845.10 270.26 L846.14 270.30 L847.10 270.34 L848.03 270.37 L848.92 270.40 L849.82 270.44 L850.69 270.47 L851.60 270.50 L852.55 270.53 L853.50 270.57" stroke-width="1.7" stroke-linejoin="round"/>
<path d="M501.00 285.50 L501.87 285.30 L502.73 285.08 L503.63 284.81 L504.47 284.54 L505.36 284.20 L506.26 283.77 L507.11 283.23 L507.75 282.71 L508.36 282.08 L508.98 281.34 L509.62 280.50 L510.27 279.61 L510.91 278.74 L511.44 278.02 L511.99 277.27 L512.56 276.49 L513.13 275.69 L513.73 274.85 L514.31 274.01 L514.90 273.14 L515.47 272.28 L515.99 271.48 L516.49 270.69 L516.98 269.91 L517.48 269.09 L517.98 268.26 L518.48 267.40 L519.00 266.49 L519.54 265.53 L520.07 264.56 L520.46 263.84 L520.84 263.11 L521.24 262.34 L521.65 261.53 L522.07 260.70 L522.49 259.85 L522.90 258.99 L523.32 258.13 L523.74 257.26 L524.17 256.39 L524.59 255.52 L525.01 254.66 L525.42 253.82 L525.84 252.98 L526.27 252.11 L526.72 251.22 L527.17 250.31 L527.62 249.40 L528.07 248.49 L528.53 247.58 L528.98 246.68 L529.44 245.76 L529.89 244.87 L530.33 243.99 L530.77 243.13 L531.19 242.31 L531.61 241.51 L532.02 240.73 L532.49 239.84 L532.96 238.98 L533.40 238.16 L533.84 237.38 L534.26 236.61 L534.69 235.85 L535.11 235.08 L535.54 234.30 L535.97 233.50 L536.41 232.66 L536.84 231.83 L537.28 230.96 L537.72 230.09 L538.16 229.21 L538.61 228.31 L539.05 227.41 L539.49 226.51 L539.92 225.60 L540.35 224.71 L540.78 223.81 L541.20 222.93 L541.60 222.09 L542.00 221.24 L542.40 220.39 L542.80 219.54 L543.19 218.68 L543.58 217.83 L543.96 216.98 L544.34 216.12 L544.70 215.26 L545.06 214.40 L545.40 213.54 L545.72 212.68 L546.04 211.79 L546.35 210.88 L546.65 209.96 L546.94 209.04 L547.22 208.13 L547.51 207.23 L547.78 206.37 L548.05 205.56 L548.32 204.80 L548.59 204.05 L548.98 203.05 L549.36 202.16 L549.71 201.35 L550.06 200.54 L550.46 199.60 L550.89 198.54 L551.17 197.81 L551.46 197.06 L551.75 196.25 L552.06 195.39 L552.38 194.47 L552.71 193.53 L553.05 192.57 L553.39 191.58 L553.73 190.59 L554.07 189.60 L554.43 188.58 L554.79 187.56 L555.14 186.57 L555.43 185.75 L555.72 184.94 L556.02 184.08 L556.34 183.20 L556.66 182.31 L556.98 181.40 L557.31 180.49 L557.63 179.58 L557.96 178.67 L558.29 177.76 L558.62 176.85 L558.95 175.94 L559.28 175.04 L559.61 174.16 L559.93 173.29 L560.25 172.45 L560.56 171.62 L560.92 170.67 L561.28 169.73 L561.64 168.81 L562.00 167.89 L562.35 167.01 L562.70 166.12 L563.05 165.24 L563.40 164.36 L563.75 163.49 L564.10 162.61 L564.44 161.75 L564.80 160.86 L565.15 159.96 L565.51 159.07 L566.37 159.40 L567.26 159.69 L568.13 159.98 L568.97 160.28 L569.82 160.61 L570.67 160.99 L571.53 161.44 L572.35 161.97 L573.00 162.48 L573.64 163.04 L574.30 163.71 L574.96 164.45 L575.62 165.24 L576.28 166.06 L576.93 166.89 L577.57 167.71 L578.20 168.49 L578.81 169.21 L579.38 169.85 L579.94 170.43 L580.75 171.18 L581.54 171.88 L582.30 172.50 L583.02 173.07 L583.75 173.64 L584.49 174.21 L585.25 174.81 L586.16 175.04 L587.09 175.26 L588.01 175.47 L588.90 175.68 L589.82 175.90 L590.73 176.11 L591.65 176.34 L592.56 176.57 L593.46 176.81 L594.36 177.07 L595.26 177.35 L596.14 177.63 L597.06 177.95 L597.99 178.28 L598.91 178.63 L599.85 178.99 L600.77 179.36 L601.69 179.75 L602.59 180.14 L603.50 180.56 L604.39 180.99 L605.25 181.43 L606.09 181.89 L606.90 182.35 L607.76 182.88 L608.58 183.41 L609.38 183.97 L610.15 184.53 L610.91 185.10 L611.66 185.70 L612.42 186.31 L613.19 186.95 L613.98 187.61 L614.79 188.29 L615.61 188.97 L616.29 189.54 L616.95 190.11 L617.65 190.70 L618.36 191.32 L619.07 191.95 L619.79 192.59 L620.52 193.24 L621.25 193.90 L621.99 194.57 L622.71 195.24 L623.44 195.92 L624.18 196.60 L624.90 197.28 L625.62 197.96 L626.33 198.64 L627.00 199.28 L627.67 199.93 L628.34 200.59 L629.01 201.26 L629.68 201.93 L630.35 202.61 L631.02 203.30 L631.69 203.98 L632.36 204.66 L633.03 205.35 L633.70 206.03 L634.37 206.71 L635.05 207.38 L635.71 208.05 L636.37 208.69 L637.04 209.35 L637.75 210.04 L638.46 210.74 L639.18 211.44 L639.88 212.13 L640.59 212.82 L641.29 213.51 L642.00 214.19 L642.71 214.87 L643.43 215.54 L644.14 216.20 L644.87 216.85 L645.59 217.48 L646.33 218.11 L647.08 218.72 L647.83 219.32 L648.58 219.89 L649.34 220.45 L650.12 221.02 L650.91 221.57 L651.71 222.12 L652.52 222.66 L653.33 223.19 L654.14 223.71 L654.95 224.21 L655.76 224.70 L656.56 225.17 L657.35 225.62 L658.11 226.04 L658.84 226.43 L659.57 226.81 L660.52 227.28 L661.45 227.71 L662.35 228.10 L663.24 228.47 L664.09 228.80 L664.95 229.12 L665.80 229.43 L666.67 229.74 L667.55 230.05 L668.44 230.35 L669.33 230.65 L670.21 230.93 L671.07 231.19 L671.93 231.45 L672.80 231.70 L673.68 231.96 L674.57 232.21 L675.50 232.48 L676.47 232.76 L677.45 233.06 L678.30 233.32 L679.15 233.59 L680.02 233.87 L680.93 234.17 L681.87 234.48 L682.81 234.79 L683.77 235.10 L684.73 235.41 L685.69 235.72 L686.66 236.01 L687.62 236.30 L688.60 236.58 L689.55 236.83 L690.50 237.07 L691.43 237.30 L692.35 237.50 L693.28 237.70 L694.22 237.90 L695.15 238.08 L696.09 238.25 L697.04 238.42 L697.98 238.58 L698.92 238.74 L699.87 238.89 L700.82 239.05 L701.78 239.20 L702.75 239.35 L703.71 239.50 L704.62 239.65 L705.52 239.78 L706.42 239.92 L707.32 240.05 L708.22 240.18 L709.13 240.30 L710.03 240.43 L710.95 240.55 L711.86 240.67 L712.79 240.79 L713.73 240.91 L714.67 241.03 L715.64 241.15 L716.64 241.27 L717.64 241.39 L718.54 241.49 L719.44 241.59 L720.36 241.69 L721.30 241.80 L722.24 241.90 L723.20 242.00 L724.17 242.09 L725.15 242.19 L726.14 242.29 L727.13 242.39 L728.12 242.49 L729.11 242.58 L730.11 242.68 L731.11 242.78 L732.11 242.87 L733.12 242.97 L734.12 243.07 L735.15 243.17 L736.15 243.27 L737.10 243.36 L738.04 243.46 L738.98 243.55 L739.93 243.65 L740.90 243.74 L741.85 243.84 L742.82 243.93 L743.79 244.03 L744.76 244.12 L745.75 244.22 L746.72 244.32 L747.70 244.41 L748.68 244.51 L749.66 244.61 L750.65 244.70 L751.63 244.80 L752.61 244.90 L753.60 244.99 L754.59 245.09 L755.58 245.19 L756.57 245.29 L757.54 245.38 L758.51 245.48 L759.48 245.58 L760.46 245.68 L761.45 245.78 L762.43 245.88 L763.41 245.98 L764.40 246.08 L765.39 246.18 L766.38 246.28 L767.37 246.38 L768.36 246.48 L769.35 246.58 L770.34 246.68 L771.33 246.78 L772.32 246.88 L773.31 246.97 L774.30 247.07 L775.29 247.16 L776.27 247.25 L777.26 247.35 L778.24 247.44 L779.22 247.52 L780.20 247.61 L781.18 247.70 L782.16 247.78 L783.13 247.87 L784.11 247.95 L785.09 248.03 L786.07 248.11 L787.04 248.19 L788.02 248.27 L789.00 248.35 L789.97 248.43 L790.95 248.51 L791.93 248.58 L792.90 248.66 L793.88 248.74 L794.86 248.81 L795.83 248.89 L796.81 248.96 L797.79 249.04 L798.77 249.11 L799.74 249.18 L800.72 249.26 L801.70 249.33 L802.67 249.40 L803.65 249.48 L804.63 249.55 L805.60 249.62 L806.58 249.69 L807.56 249.76 L808.53 249.83 L809.51 249.90 L810.49 249.97 L811.46 250.03 L812.44 250.10 L813.42 250.17 L814.40 250.23 L815.37 250.30 L816.35 250.36 L817.33 250.42 L818.31 250.48 L819.29 250.55 L820.26 250.60 L821.24 250.66 L822.22 250.72 L823.23 250.78 L824.25 250.83 L825.28 250.89 L826.31 250.94 L827.36 250.99 L828.40 251.04 L829.45 251.09 L830.49 251.14 L831.53 251.19 L832.57 251.24 L833.60 251.28 L834.62 251.33 L835.64 251.38 L836.63 251.42 L837.61 251.47 L838.57 251.52 L839.49 251.56 L840.39 251.61 L841.24 251.65 L842.02 251.69 L842.81 251.74 L843.96 251.80 L845.10 251.87 L846.14 251.93 L847.10 251.99 L848.03 252.05 L848.92 252.11 L849.82 252.17 L850.69 252.23 L851.60 252.29 L852.55 252.35 L853.50 252.41" stroke-width="1.6" stroke-dasharray="5.4 5.1" stroke-linejoin="round"/>
<path d="M501.00 285.50 L501.23 285.19 L501.49 284.90 L501.89 284.52 L502.39 284.03 L502.95 283.44 L503.49 282.84 L504.07 282.14 L504.69 281.34 L505.31 280.47 L505.92 279.59 L506.47 278.72 L506.95 277.95 L507.39 277.18 L507.85 276.36 L508.29 275.51 L508.74 274.62 L509.20 273.65 L509.64 272.67 L509.98 271.86 L510.33 271.00 L510.66 270.11 L511.01 269.17 L511.35 268.19 L511.68 267.22 L512.01 266.23 L512.34 265.24 L512.68 264.24 L513.00 263.26 L513.30 262.38 L513.60 261.49 L513.90 260.60 L514.21 259.69 L514.51 258.78 L514.81 257.86 L515.10 256.94 L515.38 256.02 L515.64 255.10 L515.90 254.18 L516.13 253.25 L516.36 252.28 L516.58 251.28 L516.78 250.27 L516.97 249.26 L517.15 248.24 L517.32 247.23 L517.49 246.21 L517.64 245.22 L517.80 244.27 L517.95 243.35 L518.10 242.47 L518.26 241.47 L518.43 240.48 L518.58 239.54 L518.73 238.63 L518.88 237.74 L519.03 236.87 L519.17 236.01 L519.32 235.13 L519.49 234.12 L519.68 233.07 L519.87 231.99 L520.05 230.98 L520.23 230.01 L520.41 229.12 L520.59 228.31 L520.80 227.41 L521.01 226.56 L521.22 225.79 L521.45 224.97 L521.71 224.05 L521.96 223.12 L522.22 222.17 L522.48 221.25 L522.74 220.32 L523.01 219.39 L523.29 218.47 L523.58 217.56 L523.86 216.69 L524.15 215.84 L524.45 214.99 L524.75 214.15 L525.06 213.30 L525.38 212.45 L525.70 211.58 L526.04 210.71 L526.35 209.89 L526.68 209.07 L527.01 208.23 L527.35 207.38 L527.70 206.53 L528.04 205.68 L528.38 204.84 L528.70 204.01 L529.02 203.18 L529.35 202.31 L529.66 201.48 L529.95 200.69 L530.23 199.91 L530.52 199.09 L530.83 198.20 L531.16 197.18 L531.51 196.10 L531.74 195.38 L531.97 194.65 L532.20 193.86 L532.46 193.02 L532.72 192.13 L532.99 191.21 L533.26 190.27 L533.53 189.31 L533.81 188.32 L534.09 187.33 L534.37 186.33 L534.64 185.32 L534.92 184.30 L535.19 183.28 L535.46 182.26 L535.73 181.23 L536.00 180.19 L536.26 179.18 L536.49 178.30 L536.71 177.42 L536.93 176.53 L537.15 175.62 L537.37 174.70 L537.59 173.77 L537.81 172.83 L538.03 171.90 L538.25 170.97 L538.46 170.02 L538.68 169.07 L538.90 168.11 L539.12 167.14 L539.34 166.18 L539.55 165.22 L539.77 164.25 L539.99 163.28 L540.21 162.31 L540.43 161.33 L540.65 160.35 L540.88 159.35 L541.11 158.36 L541.31 157.45 L541.52 156.53 L541.73 155.62 L541.94 154.69 L542.15 153.76 L542.36 152.82 L542.57 151.88 L542.78 150.94 L542.99 150.00 L543.20 149.05 L543.42 148.10 L543.63 147.15 L543.85 146.18 L544.06 145.22 L544.28 144.26 L544.49 143.30 L544.71 142.34 L544.93 141.37 L545.15 140.41 L545.37 139.44 L545.60 138.47 L545.82 137.50 L546.05 136.53 L546.28 135.56 L546.51 134.58 L546.74 133.64 L546.96 132.70 L547.19 131.75 L547.42 130.79 L547.65 129.84 L547.89 128.87 L548.12 127.91 L548.36 126.94 L548.60 125.97 L548.84 125.00 L549.08 124.03 L549.32 123.06 L549.56 122.09 L549.81 121.11 L550.05 120.14 L550.30 119.17 L550.54 118.20 L550.79 117.23 L551.03 116.26 L551.28 115.30 L551.52 114.33 L551.77 113.37 L552.01 112.42 L552.26 111.46 L552.51 110.52 L552.75 109.58 L552.99 108.64 L553.25 107.67 L553.51 106.70 L553.77 105.74 L554.03 104.78 L554.29 103.83 L554.56 102.88 L554.82 101.93 L555.09 100.99 L555.35 100.05 L555.62 99.10 L555.89 98.16 L556.16 97.21 L556.42 96.27 L556.69 95.34 L556.95 94.40 L557.21 93.47 L557.46 92.55 L557.72 91.61 L557.97 90.67 L558.22 89.72 L558.47 88.77 L558.71 87.82 L558.94 86.87 L559.18 85.92 L559.40 84.96 L559.63 84.00 L559.85 83.03 L560.06 82.06 L560.27 81.10 L560.48 80.13 L560.68 79.15 L560.88 78.18 L561.08 77.21 L561.28 76.24 L561.47 75.26 L561.66 74.29 L561.85 73.31 L562.03 72.33 L562.22 71.36 L562.40 70.38 L562.59 69.40 L562.77 68.42 L562.96 67.45 L563.14 66.47 L563.33 65.49 L563.51 64.52 L563.70 63.54 L563.89 62.57 L564.08 61.59 L564.27 60.62 L564.62 61.43 L564.95 62.19 L565.27 62.94 L565.60 63.71 L565.98 64.62 L566.40 65.63 L566.69 66.34 L567.00 67.08 L567.33 67.92 L567.71 68.83 L568.09 69.80 L568.49 70.80 L568.89 71.80 L569.30 72.81 L569.70 73.82 L570.10 74.82 L570.48 75.80 L570.85 76.72 L571.18 77.57 L571.50 78.37 L571.88 79.32 L572.23 80.21 L572.56 81.04 L572.87 81.83 L573.17 82.61 L573.48 83.39 L573.80 84.22 L574.14 85.10 L574.50 86.04 L574.81 86.86 L575.13 87.70 L575.47 88.58 L575.82 89.50 L576.17 90.44 L576.53 91.41 L576.89 92.36 L577.25 93.33 L577.60 94.29 L577.95 95.26 L578.28 96.21 L578.60 97.13 L578.90 98.04 L579.19 98.93 L579.47 99.83 L579.74 100.74 L580.01 101.65 L580.27 102.56 L580.52 103.46 L580.78 104.35 L581.03 105.24 L581.29 106.10 L581.54 106.94 L581.80 107.76 L582.06 108.56 L582.41 109.55 L582.77 110.53 L583.12 111.47 L583.48 112.38 L583.83 113.27 L584.17 114.13 L584.53 115.02 L584.89 115.93 L585.25 116.84 L586.16 117.21 L587.07 117.57 L587.98 117.94 L588.90 118.31 L589.81 118.67 L590.72 119.04 L591.63 119.41 L592.54 119.78 L593.45 120.15 L594.36 120.52 L595.27 120.90 L596.17 121.27 L597.08 121.65 L597.99 122.03 L598.91 122.41 L599.83 122.78 L600.74 123.17 L601.66 123.55 L602.58 123.94 L603.48 124.34 L604.37 124.74 L605.24 125.16 L606.09 125.57 L606.94 126.00 L607.78 126.44 L608.59 126.87 L609.39 127.30 L610.17 127.73 L610.93 128.17 L611.69 128.63 L612.45 129.10 L613.21 129.61 L613.98 130.16 L614.78 130.77 L615.58 131.41 L616.20 131.95 L616.82 132.52 L617.47 133.14 L618.13 133.81 L618.80 134.51 L619.47 135.24 L620.15 135.99 L620.82 136.76 L621.48 137.52 L622.15 138.30 L622.79 139.08 L623.43 139.84 L624.05 140.60 L624.65 141.32 L625.22 142.01 L625.75 142.65 L626.26 143.28 L626.97 144.13 L627.64 144.96 L628.25 145.72 L628.82 146.45 L629.37 147.15 L629.91 147.85 L630.47 148.59 L631.05 149.35 L631.67 150.17 L632.34 151.04 L632.86 151.74 L633.39 152.45 L633.93 153.18 L634.50 153.96 L635.07 154.74 L635.66 155.54 L636.25 156.37 L636.85 157.18 L637.46 158.01 L638.07 158.84 L638.70 159.66 L639.33 160.49 L639.98 161.33 L640.66 162.17 L641.34 163.01 L641.93 163.72 L642.52 164.41 L643.15 165.13 L643.78 165.86 L644.44 166.59 L645.12 167.34 L645.79 168.08 L646.47 168.82 L647.16 169.56 L647.85 170.31 L648.54 171.05 L649.23 171.79 L649.93 172.54 L650.62 173.28 L651.30 174.02 L651.99 174.76 L652.66 175.50 L653.32 176.23 L653.97 176.95 L654.64 177.71 L655.32 178.48 L655.99 179.25 L656.65 180.02 L657.32 180.80 L657.98 181.58 L658.64 182.36 L659.30 183.13 L659.96 183.91 L660.62 184.67 L661.27 185.43 L661.94 186.19 L662.59 186.94 L663.24 187.66 L663.89 188.38 L664.52 189.06 L665.14 189.72 L665.77 190.37 L666.48 191.10 L667.20 191.83 L667.91 192.55 L668.61 193.23 L669.30 193.91 L669.98 194.56 L670.66 195.21 L671.35 195.84 L672.04 196.46 L672.73 197.06 L673.42 197.64 L674.10 198.20 L674.78 198.73 L675.48 199.26 L676.28 199.83 L677.06 200.37 L677.83 200.86 L678.58 201.33 L679.33 201.78 L680.09 202.21 L680.86 202.64 L681.67 203.06 L682.51 203.50 L683.41 203.95 L684.34 204.41 L685.10 204.77 L685.86 205.13 L686.68 205.50 L687.52 205.88 L688.41 206.27 L689.31 206.65 L690.23 207.04 L691.16 207.42 L692.09 207.79 L693.03 208.16 L693.97 208.53 L694.90 208.88 L695.82 209.22 L696.73 209.55 L697.57 209.85 L698.39 210.14 L699.21 210.41 L700.23 210.75 L701.30 211.09 L702.34 211.40 L703.36 211.69 L704.37 211.97 L705.38 212.23 L706.36 212.49 L707.32 212.73 L708.24 212.95 L709.09 213.16 L709.90 213.34 L710.70 213.52 L711.77 213.75 L712.72 213.94 L713.57 214.10 L714.41 214.25 L715.34 214.43 L716.39 214.63 L717.23 214.80 L718.08 214.97 L719.00 215.16 L719.98 215.37 L721.00 215.58 L722.04 215.80 L723.07 216.03 L724.11 216.25 L725.17 216.48 L726.21 216.70 L727.21 216.92 L728.08 217.12 L728.92 217.30 L729.77 217.49 L730.61 217.68 L731.46 217.87 L732.32 218.06 L733.18 218.26 L734.06 218.46 L734.97 218.67 L735.92 218.88 L736.92 219.11 L737.94 219.34 L738.75 219.53 L739.56 219.72 L740.40 219.92 L741.27 220.12 L742.17 220.34 L743.08 220.56 L744.00 220.78 L744.93 221.01 L745.88 221.24 L746.84 221.46 L747.81 221.69 L748.79 221.92 L749.76 222.14 L750.74 222.36 L751.73 222.57 L752.72 222.78 L753.71 222.98 L754.72 223.18 L755.72 223.36 L756.64 223.53 L757.56 223.68 L758.50 223.83 L759.46 223.99 L760.43 224.13 L761.43 224.28 L762.41 224.42 L763.39 224.55 L764.39 224.68 L765.38 224.81 L766.38 224.94 L767.38 225.07 L768.38 225.19 L769.39 225.32 L770.39 225.44 L771.39 225.56 L772.39 225.69 L773.40 225.81 L774.39 225.94 L775.39 226.06 L776.38 226.19 L777.36 226.32 L778.34 226.45 L779.32 226.58 L780.30 226.72 L781.27 226.85 L782.25 226.98 L783.23 227.12 L784.21 227.25 L785.18 227.38 L786.16 227.52 L787.14 227.65 L788.11 227.78 L789.09 227.91 L790.07 228.04 L791.04 228.17 L792.02 228.30 L793.00 228.42 L793.97 228.55 L794.95 228.67 L795.93 228.79 L796.91 228.91 L797.89 229.03 L798.86 229.14 L799.84 229.25 L800.82 229.36 L801.79 229.47 L802.77 229.57 L803.75 229.68 L804.72 229.78 L805.70 229.88 L806.68 229.98 L807.65 230.07 L808.63 230.17 L809.61 230.26 L810.58 230.36 L811.56 230.45 L812.54 230.54 L813.52 230.64 L814.49 230.73 L815.47 230.82 L816.45 230.92 L817.43 231.01 L818.41 231.10 L819.38 231.20 L820.35 231.30 L821.34 231.40 L822.34 231.50 L823.36 231.60 L824.39 231.71 L825.42 231.81 L826.45 231.92 L827.49 232.03 L828.53 232.14 L829.57 232.25 L830.60 232.36 L831.63 232.46 L832.66 232.57 L833.67 232.67 L834.69 232.77 L835.68 232.87 L836.66 232.97 L837.62 233.06 L838.55 233.14 L839.47 233.23 L840.33 233.30 L841.13 233.37 L841.95 233.44 L843.07 233.52 L844.18 233.60 L845.22 233.67 L846.18 233.73 L847.12 233.78 L848.02 233.83 L848.92 233.88 L849.81 233.92 L850.69 233.97 L851.61 234.02 L852.55 234.07 L853.50 234.12" stroke-width="2.2" stroke-dasharray="2.2 2.14" stroke-linejoin="round"/>
</g>
<rect x="738.50" y="22.50" width="107.00" height="66.50" fill="#fff" stroke="#262626" stroke-width="0.8"/>
<path d="M739.20 34.40H761.20" stroke="#000" stroke-width="1.7" fill="none"/>
<text x="761.70" y="40.50" font-size="16" letter-spacing="0.47" fill="#000">D = 20 mm</text>
<path d="M739.20 55.90H761.20" stroke="#000" stroke-width="1.6" stroke-dasharray="5.4 5.1" fill="none"/>
<text x="761.70" y="62.00" font-size="16" letter-spacing="0.47" fill="#000">D = 35 mm</text>
<path d="M739.20 77.40H761.20" stroke="#000" stroke-width="2.2" stroke-dasharray="2.2 2.14" fill="none"/>
<text x="761.70" y="83.50" font-size="16" letter-spacing="0.47" fill="#000">D = 50 mm</text>
<path fill="#000" fill-rule="evenodd" transform="translate(620.20 349.2) skewX(-20)" d="M-6.20 0.00a6.20 5.45 0 1 0 12.40 0a6.20 5.45 0 1 0 -12.40 0ZM-4.20 -0.10a4.75 4.35 0 1 0 9.50 0a4.75 4.35 0 1 0 -9.50 0Z"/>
<path d="M621.45 340.3L617.60 360.8" stroke="#000" stroke-width="1.35" fill="none"/>
<path d="M635.70 346.6H651.90M635.70 351.5H651.90" stroke="#000" stroke-width="0.95" fill="none"/>
<text class="cap" transform="translate(659.30 355.6) scale(0.9 1)" font-size="26.1" fill="#000">0.6</text>
<path d="M933.00 285.50V281.90M933.00 16.50V20.10M933.00 285.50H936.60M1285.50 285.50H1281.90M968.25 285.50V281.90M968.25 16.50V20.10M933.00 258.60H936.60M1285.50 258.60H1281.90M1003.50 285.50V281.90M1003.50 16.50V20.10M933.00 231.70H936.60M1285.50 231.70H1281.90M1038.75 285.50V281.90M1038.75 16.50V20.10M933.00 204.80H936.60M1285.50 204.80H1281.90M1074.00 285.50V281.90M1074.00 16.50V20.10M933.00 177.90H936.60M1285.50 177.90H1281.90M1109.25 285.50V281.90M1109.25 16.50V20.10M933.00 151.00H936.60M1285.50 151.00H1281.90M1144.50 285.50V281.90M1144.50 16.50V20.10M933.00 124.10H936.60M1285.50 124.10H1281.90M1179.75 285.50V281.90M1179.75 16.50V20.10M933.00 97.20H936.60M1285.50 97.20H1281.90M1215.00 285.50V281.90M1215.00 16.50V20.10M933.00 70.30H936.60M1285.50 70.30H1281.90M1250.25 285.50V281.90M1250.25 16.50V20.10M933.00 43.40H936.60M1285.50 43.40H1281.90M1285.50 285.50V281.90M1285.50 16.50V20.10M933.00 16.50H936.60M1285.50 16.50H1281.90" stroke="#262626" stroke-width="0.6" fill="none"/>
<rect x="933.00" y="16.50" width="352.50" height="269.00" fill="none" stroke="#262626" stroke-width="0.6"/>
<g font-size="16" fill="#262626"><text x="933.00" y="307.70" text-anchor="middle">0</text><text x="927.60" y="292.50" text-anchor="end">0</text><text x="968.25" y="307.70" text-anchor="middle">0.2</text><text x="927.60" y="265.60" text-anchor="end">0.2</text><text x="1003.50" y="307.70" text-anchor="middle">0.4</text><text x="927.60" y="238.70" text-anchor="end">0.4</text><text x="1038.75" y="307.70" text-anchor="middle">0.6</text><text x="927.60" y="211.80" text-anchor="end">0.6</text><text x="1074.00" y="307.70" text-anchor="middle">0.8</text><text x="927.60" y="184.90" text-anchor="end">0.8</text><text x="1109.25" y="307.70" text-anchor="middle">1</text><text x="927.60" y="158.00" text-anchor="end">1</text><text x="1144.50" y="307.70" text-anchor="middle">1.2</text><text x="927.60" y="131.10" text-anchor="end">1.2</text><text x="1179.75" y="307.70" text-anchor="middle">1.4</text><text x="927.60" y="104.20" text-anchor="end">1.4</text><text x="1215.00" y="307.70" text-anchor="middle">1.6</text><text x="927.60" y="77.30" text-anchor="end">1.6</text><text x="1250.25" y="307.70" text-anchor="middle">1.8</text><text x="927.60" y="50.40" text-anchor="end">1.8</text><text x="1285.50" y="307.70" text-anchor="middle">2</text><text x="927.60" y="23.50" text-anchor="end">2</text></g>
<text x="1109.25" y="323.00" font-size="18.5" fill="#141414" text-anchor="middle">Time (s)</text>
<text transform="translate(889.50 151.50) rotate(-90)" font-size="18.4" fill="#262626" text-anchor="middle">E<tspan font-size="15.5" dy="8.7">k_avg</tspan><tspan dy="-8.7" dx="3.3"> / E</tspan><tspan font-size="15.5" dy="8.7">max</tspan></text>
<clipPath id="clip2"><rect x="933.00" y="16.50" width="352.50" height="269.00"/></clipPath>
<g clip-path="url(#clip2)" fill="none" stroke="#000">
<path d="M933.00 284.83 L933.67 284.74 L934.30 284.66 L935.02 284.57 L935.80 284.48 L936.78 284.36 L937.86 284.22 L938.99 284.05 L940.07 283.86 L940.98 283.69 L941.95 283.48 L942.99 283.23 L944.06 282.95 L945.07 282.63 L945.99 282.27 L946.78 281.87 L947.48 281.43 L948.10 280.97 L948.69 280.47 L949.32 279.93 L950.02 279.35 L950.64 278.85 L951.32 278.33 L952.04 277.79 L952.81 277.24 L953.60 276.68 L954.39 276.15 L955.16 275.64 L955.92 275.18 L956.76 274.70 L957.60 274.25 L958.44 273.83 L959.28 273.42 L960.14 272.99 L961.04 272.51 L961.94 272.00 L962.65 271.56 L963.35 271.11 L964.07 270.63 L964.82 270.12 L965.57 269.59 L966.33 269.04 L967.08 268.49 L967.83 267.93 L968.56 267.37 L969.29 266.81 L970.04 266.23 L970.80 265.63 L971.55 265.03 L972.29 264.43 L973.03 263.81 L973.76 263.20 L974.51 262.56 L975.25 261.92 L975.99 261.26 L976.73 260.59 L977.40 259.97 L978.09 259.34 L978.78 258.68 L979.47 258.01 L980.16 257.34 L980.85 256.66 L981.53 255.97 L982.20 255.28 L982.85 254.59 L983.48 253.90 L984.11 253.21 L984.74 252.49 L985.36 251.78 L985.96 251.07 L986.54 250.36 L987.11 249.65 L987.67 248.92 L988.23 248.18 L988.78 247.44 L989.34 246.65 L989.89 245.84 L990.40 245.03 L990.92 244.17 L991.43 243.25 L991.94 242.30 L992.44 241.33 L992.94 240.36 L993.45 239.40 L993.96 238.47 L994.47 237.60 L994.97 236.82 L995.45 236.15 L995.94 235.53 L996.66 234.75 L997.39 234.06 L998.10 233.49 L998.82 232.99 L999.57 232.55 L1000.38 232.17 L1001.14 231.87 L1001.93 231.63 L1002.77 231.44 L1003.64 231.29 L1004.53 231.18 L1005.42 231.11 L1006.30 231.06 L1007.22 231.05 L1008.15 231.08 L1009.06 231.14 L1010.01 231.22 L1010.99 231.33 L1012.01 231.45 L1013.07 231.56 L1013.92 231.65 L1014.80 231.74 L1015.74 231.83 L1016.72 231.93 L1017.71 232.03 L1018.73 232.16 L1019.72 232.29 L1020.69 232.44 L1021.63 232.61 L1022.53 232.81 L1023.47 233.04 L1024.39 233.30 L1025.30 233.59 L1026.20 233.89 L1027.09 234.21 L1027.98 234.53 L1028.87 234.85 L1029.76 235.16 L1030.66 235.46 L1031.53 235.75 L1032.41 236.03 L1033.29 236.30 L1034.17 236.58 L1035.04 236.85 L1035.92 237.11 L1036.80 237.37 L1037.69 237.63 L1038.58 237.88 L1039.47 238.13 L1040.36 238.36 L1041.24 238.59 L1042.13 238.82 L1043.01 239.04 L1043.91 239.26 L1044.82 239.47 L1045.74 239.69 L1046.68 239.90 L1047.59 240.10 L1048.51 240.30 L1049.45 240.50 L1050.38 240.70 L1051.33 240.89 L1052.29 241.08 L1053.25 241.27 L1054.24 241.45 L1055.22 241.62 L1056.22 241.78 L1057.15 241.93 L1058.10 242.07 L1059.07 242.21 L1060.03 242.34 L1061.03 242.47 L1062.01 242.59 L1063.00 242.71 L1063.99 242.82 L1064.98 242.93 L1065.97 243.03 L1066.95 243.13 L1067.94 243.22 L1068.92 243.31 L1069.89 243.39 L1070.87 243.47 L1071.84 243.54 L1072.82 243.61 L1073.81 243.67 L1074.80 243.74 L1075.82 243.80 L1076.88 243.87 L1077.93 243.95 L1078.83 244.01 L1079.73 244.07 L1080.68 244.14 L1081.66 244.22 L1082.65 244.29 L1083.67 244.37 L1084.67 244.44 L1085.68 244.50 L1086.67 244.56 L1087.65 244.62 L1088.61 244.66 L1089.50 244.70 L1090.35 244.72 L1091.20 244.73 L1092.29 244.73 L1093.37 244.71 L1094.39 244.68 L1095.35 244.64 L1096.29 244.59 L1097.22 244.53 L1098.15 244.47 L1099.11 244.41 L1100.08 244.34 L1101.06 244.28 L1102.02 244.22 L1102.96 244.16 L1103.88 244.10 L1104.83 244.03 L1105.79 243.95 L1106.81 243.87 L1107.89 243.77 L1108.97 243.66 L1109.81 243.57 L1110.65 243.47 L1111.54 243.36 L1112.46 243.25 L1113.42 243.13 L1114.40 243.00 L1115.38 242.87 L1116.37 242.73 L1117.37 242.59 L1118.35 242.46 L1119.32 242.32 L1120.27 242.18 L1121.17 242.06 L1122.08 241.92 L1123.08 241.78 L1124.09 241.62 L1125.08 241.46 L1126.04 241.31 L1126.99 241.15 L1127.93 241.00 L1128.87 240.85 L1129.82 240.70 L1130.79 240.56 L1131.77 240.42 L1132.79 240.29 L1133.80 240.18 L1134.69 240.09 L1135.59 240.01 L1136.50 239.94 L1137.42 239.87 L1138.34 239.81 L1139.28 239.76 L1140.21 239.71 L1141.16 239.66 L1142.10 239.61 L1143.05 239.57 L1144.02 239.52 L1145.00 239.47 L1146.00 239.42 L1147.01 239.36 L1147.89 239.31 L1148.78 239.25 L1149.69 239.19 L1150.62 239.12 L1151.56 239.06 L1152.50 238.99 L1153.45 238.92 L1154.41 238.86 L1155.36 238.79 L1156.32 238.73 L1157.28 238.67 L1158.24 238.62 L1159.20 238.57 L1160.16 238.52 L1161.12 238.49 L1162.06 238.46 L1163.01 238.43 L1163.95 238.41 L1164.90 238.39 L1165.84 238.38 L1166.79 238.38 L1167.75 238.37 L1168.70 238.37 L1169.65 238.37 L1170.60 238.38 L1171.55 238.40 L1172.50 238.41 L1173.45 238.44 L1174.39 238.47 L1175.33 238.50 L1176.27 238.54 L1177.19 238.59 L1178.10 238.64 L1179.00 238.70 L1180.01 238.77 L1181.01 238.85 L1182.00 238.94 L1183.00 239.04 L1183.97 239.14 L1184.93 239.25 L1185.90 239.36 L1186.83 239.48 L1187.80 239.60 L1188.76 239.73 L1189.73 239.86 L1190.71 240.00 L1191.71 240.15 L1192.71 240.30 L1193.71 240.45 L1194.63 240.60 L1195.53 240.75 L1196.46 240.91 L1197.41 241.08 L1198.36 241.25 L1199.31 241.43 L1200.26 241.62 L1201.22 241.80 L1202.17 241.99 L1203.13 242.18 L1204.08 242.36 L1205.03 242.55 L1205.98 242.73 L1206.92 242.90 L1207.85 243.07 L1208.76 243.23 L1209.67 243.39 L1210.68 243.56 L1211.68 243.72 L1212.68 243.88 L1213.66 244.04 L1214.64 244.19 L1215.61 244.34 L1216.58 244.49 L1217.55 244.63 L1218.52 244.77 L1219.49 244.91 L1220.45 245.04 L1221.42 245.17 L1222.39 245.30 L1223.37 245.43 L1224.34 245.55 L1225.32 245.67 L1226.29 245.79 L1227.26 245.91 L1228.24 246.02 L1229.21 246.13 L1230.19 246.24 L1231.16 246.35 L1232.14 246.45 L1233.11 246.55 L1234.09 246.64 L1235.07 246.73 L1236.04 246.81 L1237.02 246.89 L1238.00 246.96 L1238.97 247.03 L1239.95 247.08 L1240.92 247.13 L1241.89 247.17 L1242.87 247.21 L1243.84 247.23 L1244.82 247.26 L1245.79 247.27 L1246.77 247.29 L1247.75 247.31 L1248.72 247.32 L1249.70 247.34 L1250.67 247.36 L1251.66 247.38 L1252.64 247.41 L1253.61 247.44 L1254.59 247.48 L1255.54 247.52 L1256.51 247.56 L1257.47 247.61 L1258.43 247.65 L1259.39 247.70 L1260.35 247.75 L1261.30 247.80 L1262.27 247.85 L1263.24 247.89 L1264.22 247.94 L1265.21 247.99 L1266.23 248.03 L1267.25 248.07 L1268.28 248.11 L1269.19 248.14 L1270.09 248.17 L1271.01 248.19 L1271.96 248.22 L1272.91 248.24 L1273.87 248.27 L1274.83 248.29 L1275.80 248.31 L1276.77 248.33 L1277.74 248.35 L1278.72 248.37 L1279.69 248.39 L1280.66 248.41 L1281.64 248.43 L1282.59 248.45 L1283.57 248.47 L1284.54 248.49 L1285.50 248.51" stroke-width="1.7" stroke-linejoin="round"/>
<path d="M933.00 285.50 L933.87 285.30 L934.73 285.08 L935.63 284.81 L936.47 284.54 L937.36 284.20 L938.26 283.77 L939.11 283.23 L939.75 282.71 L940.36 282.08 L940.98 281.34 L941.62 280.50 L942.27 279.61 L942.91 278.74 L943.44 278.02 L943.99 277.27 L944.56 276.49 L945.13 275.69 L945.73 274.85 L946.31 274.01 L946.90 273.14 L947.47 272.28 L947.99 271.48 L948.49 270.69 L948.98 269.91 L949.48 269.09 L949.98 268.26 L950.48 267.40 L951.00 266.49 L951.54 265.53 L952.07 264.56 L952.46 263.84 L952.84 263.11 L953.24 262.34 L953.65 261.53 L954.07 260.70 L954.49 259.85 L954.90 258.99 L955.32 258.13 L955.74 257.26 L956.17 256.39 L956.59 255.52 L957.01 254.66 L957.42 253.82 L957.84 252.98 L958.27 252.11 L958.72 251.22 L959.17 250.31 L959.62 249.40 L960.07 248.49 L960.53 247.58 L960.98 246.68 L961.44 245.76 L961.89 244.87 L962.33 243.99 L962.77 243.13 L963.19 242.31 L963.61 241.51 L964.02 240.73 L964.49 239.84 L964.96 238.98 L965.40 238.16 L965.84 237.38 L966.26 236.61 L966.69 235.85 L967.11 235.08 L967.54 234.30 L967.97 233.50 L968.41 232.66 L968.84 231.83 L969.28 230.96 L969.72 230.09 L970.16 229.21 L970.61 228.31 L971.05 227.41 L971.49 226.51 L971.92 225.60 L972.36 224.70 L972.78 223.80 L973.21 222.91 L973.60 222.08 L973.99 221.27 L974.37 220.47 L974.75 219.67 L975.12 218.88 L975.50 218.08 L975.86 217.26 L976.24 216.40 L976.63 215.48 L977.03 214.49 L977.43 213.46 L977.71 212.72 L977.98 211.94 L978.27 211.12 L978.56 210.23 L978.87 209.29 L979.17 208.34 L979.47 207.36 L979.77 206.37 L980.07 205.38 L980.37 204.38 L980.66 203.38 L980.96 202.37 L981.25 201.38 L981.55 200.39 L981.84 199.41 L982.13 198.45 L982.42 197.53 L982.70 196.65 L982.96 195.83 L983.22 195.03 L983.56 194.04 L983.89 193.07 L984.21 192.15 L984.53 191.25 L984.83 190.40 L985.14 189.56 L985.45 188.72 L985.75 187.89 L986.05 187.07 L986.35 186.24 L986.66 185.41 L986.97 184.56 L987.28 183.69 L987.60 182.82 L987.91 181.95 L988.23 181.09 L988.54 180.22 L988.86 179.36 L989.17 178.50 L989.49 177.64 L989.80 176.77 L990.11 175.90 L990.42 175.03 L990.72 174.17 L991.02 173.31 L991.31 172.43 L991.62 171.49 L991.92 170.51 L992.22 169.49 L992.51 168.47 L992.80 167.45 L993.09 166.42 L993.38 165.41 L993.68 164.41 L993.98 163.44 L994.29 162.52 L994.60 161.69 L994.89 160.97 L995.22 160.26 L995.77 159.23 L996.35 158.28 L996.89 157.47 L997.43 156.73 L997.99 155.97 L998.57 155.17 L999.42 155.41 L1000.28 155.61 L1001.15 155.85 L1001.97 156.12 L1002.80 156.45 L1003.61 156.87 L1004.33 157.33 L1005.03 157.88 L1005.74 158.52 L1006.45 159.23 L1007.17 159.98 L1007.91 160.75 L1008.64 161.49 L1009.37 162.18 L1010.05 162.78 L1010.73 163.37 L1011.44 163.97 L1012.17 164.56 L1012.90 165.16 L1013.63 165.75 L1014.38 166.35 L1015.11 166.95 L1015.84 167.54 L1016.83 167.67 L1017.83 167.78 L1018.84 167.90 L1019.86 168.02 L1020.87 168.14 L1021.89 168.26 L1022.90 168.38 L1023.90 168.50 L1024.91 168.63 L1025.88 168.75 L1026.84 168.88 L1027.76 169.02 L1028.66 169.15 L1029.72 169.31 L1030.75 169.46 L1031.76 169.61 L1032.73 169.75 L1033.69 169.91 L1034.62 170.08 L1035.55 170.27 L1036.48 170.50 L1037.43 170.76 L1038.39 171.08 L1039.29 171.41 L1040.17 171.79 L1041.06 172.20 L1041.95 172.65 L1042.83 173.12 L1043.72 173.61 L1044.59 174.12 L1045.47 174.63 L1046.37 175.15 L1047.25 175.67 L1048.13 176.18 L1048.93 176.64 L1049.72 177.10 L1050.52 177.58 L1051.32 178.07 L1052.13 178.56 L1052.94 179.06 L1053.74 179.55 L1054.55 180.04 L1055.36 180.53 L1056.16 181.00 L1056.95 181.46 L1057.75 181.91 L1058.63 182.38 L1059.52 182.86 L1060.42 183.32 L1061.30 183.77 L1062.18 184.21 L1063.06 184.64 L1063.94 185.08 L1064.83 185.50 L1065.71 185.93 L1066.60 186.35 L1067.48 186.78 L1068.36 187.20 L1069.24 187.63 L1070.12 188.06 L1071.00 188.49 L1071.88 188.91 L1072.75 189.32 L1073.63 189.72 L1074.52 190.12 L1075.41 190.50 L1076.31 190.86 L1077.20 191.21 L1078.07 191.52 L1078.92 191.82 L1079.77 192.10 L1080.62 192.36 L1081.47 192.62 L1082.33 192.86 L1083.20 193.10 L1084.08 193.34 L1084.99 193.57 L1085.93 193.81 L1086.88 194.04 L1087.74 194.24 L1088.62 194.44 L1089.53 194.64 L1090.46 194.83 L1091.42 195.03 L1092.38 195.22 L1093.36 195.41 L1094.35 195.59 L1095.32 195.77 L1096.28 195.95 L1097.21 196.11 L1098.13 196.28 L1099.02 196.44 L1099.90 196.59 L1100.87 196.75 L1101.82 196.90 L1102.73 197.04 L1103.62 197.17 L1104.49 197.29 L1105.36 197.42 L1106.24 197.55 L1107.13 197.69 L1108.04 197.85 L1108.98 198.03 L1109.96 198.23 L1110.85 198.44 L1111.74 198.66 L1112.64 198.90 L1113.56 199.17 L1114.50 199.45 L1115.45 199.74 L1116.41 200.03 L1117.38 200.32 L1118.35 200.61 L1119.33 200.89 L1120.32 201.15 L1121.33 201.40 L1122.39 201.63 L1123.42 201.84 L1124.29 202.00 L1125.17 202.15 L1126.06 202.29 L1127.00 202.43 L1127.95 202.56 L1128.91 202.69 L1129.86 202.81 L1130.83 202.92 L1131.81 203.02 L1132.79 203.11 L1133.78 203.20 L1134.76 203.27 L1135.73 203.33 L1136.69 203.38 L1137.64 203.41 L1138.59 203.43 L1139.51 203.44 L1140.43 203.44 L1141.41 203.42 L1142.39 203.37 L1143.35 203.31 L1144.31 203.23 L1145.27 203.14 L1146.22 203.03 L1147.16 202.92 L1148.11 202.79 L1149.05 202.66 L1149.99 202.52 L1150.93 202.38 L1151.87 202.24 L1152.80 202.10 L1153.73 201.97 L1154.64 201.84 L1155.57 201.71 L1156.55 201.58 L1157.54 201.44 L1158.55 201.30 L1159.54 201.16 L1160.53 201.02 L1161.52 200.87 L1162.50 200.73 L1163.49 200.58 L1164.47 200.44 L1165.44 200.30 L1166.40 200.16 L1167.32 200.04 L1168.24 199.92 L1169.11 199.81 L1170.00 199.70 L1171.05 199.59 L1172.10 199.48 L1173.13 199.38 L1174.11 199.29 L1175.07 199.21 L1176.02 199.13 L1176.96 199.06 L1177.89 198.98 L1178.84 198.91 L1179.81 198.83 L1180.78 198.75 L1181.79 198.66 L1182.79 198.57 L1183.78 198.47 L1184.78 198.38 L1185.77 198.28 L1186.77 198.19 L1187.76 198.10 L1188.76 198.02 L1189.75 197.94 L1190.75 197.87 L1191.74 197.81 L1192.72 197.76 L1193.70 197.71 L1194.67 197.68 L1195.65 197.64 L1196.63 197.61 L1197.60 197.59 L1198.58 197.57 L1199.56 197.56 L1200.53 197.55 L1201.51 197.54 L1202.49 197.54 L1203.46 197.54 L1204.44 197.55 L1205.42 197.56 L1206.39 197.57 L1207.37 197.59 L1208.35 197.61 L1209.32 197.64 L1210.30 197.68 L1211.28 197.71 L1212.25 197.76 L1213.23 197.81 L1214.22 197.87 L1215.22 197.93 L1216.21 198.00 L1217.21 198.07 L1218.21 198.15 L1219.20 198.23 L1220.20 198.32 L1221.19 198.42 L1222.19 198.52 L1223.18 198.64 L1224.17 198.76 L1225.15 198.88 L1226.13 199.02 L1227.11 199.16 L1228.08 199.31 L1229.06 199.47 L1230.03 199.63 L1231.01 199.80 L1231.98 199.97 L1232.98 200.15 L1233.97 200.33 L1234.96 200.51 L1235.86 200.67 L1236.74 200.84 L1237.65 201.01 L1238.56 201.19 L1239.47 201.37 L1240.38 201.55 L1241.29 201.73 L1242.21 201.92 L1243.12 202.10 L1244.02 202.28 L1244.90 202.46 L1245.80 202.64 L1246.79 202.83 L1247.78 203.03 L1248.78 203.22 L1249.76 203.41 L1250.74 203.60 L1251.72 203.80 L1252.69 203.99 L1253.67 204.19 L1254.66 204.39 L1255.66 204.60 L1256.65 204.82 L1257.53 205.02 L1258.40 205.22 L1259.28 205.43 L1260.18 205.64 L1261.07 205.86 L1261.96 206.08 L1262.86 206.30 L1263.75 206.52 L1264.65 206.73 L1265.55 206.94 L1266.44 207.15 L1267.33 207.35 L1268.24 207.54 L1269.17 207.74 L1270.11 207.93 L1271.06 208.12 L1272.01 208.31 L1272.96 208.49 L1273.89 208.67 L1274.82 208.85 L1275.73 209.02 L1276.59 209.19 L1277.42 209.34 L1278.23 209.50 L1279.23 209.69 L1280.20 209.87 L1281.12 210.04 L1282.00 210.21 L1282.84 210.36 L1283.71 210.52 L1284.60 210.69 L1285.50 210.85" stroke-width="1.6" stroke-dasharray="5.4 5.1" stroke-linejoin="round"/>
<path d="M933.00 285.50 L933.23 285.19 L933.49 284.90 L933.89 284.52 L934.39 284.03 L934.95 283.44 L935.49 282.84 L936.07 282.14 L936.69 281.34 L937.31 280.47 L937.92 279.59 L938.47 278.72 L938.95 277.95 L939.39 277.18 L939.85 276.36 L940.29 275.51 L940.74 274.62 L941.20 273.65 L941.64 272.67 L941.98 271.86 L942.33 271.00 L942.66 270.11 L943.01 269.17 L943.35 268.19 L943.68 267.22 L944.01 266.23 L944.34 265.24 L944.68 264.24 L945.00 263.26 L945.30 262.38 L945.60 261.49 L945.90 260.60 L946.21 259.69 L946.51 258.78 L946.81 257.86 L947.10 256.94 L947.38 256.02 L947.64 255.10 L947.90 254.18 L948.13 253.25 L948.36 252.28 L948.58 251.28 L948.78 250.27 L948.97 249.26 L949.15 248.24 L949.32 247.23 L949.49 246.21 L949.64 245.22 L949.80 244.27 L949.95 243.35 L950.10 242.47 L950.26 241.47 L950.43 240.48 L950.58 239.54 L950.73 238.63 L950.88 237.74 L951.03 236.87 L951.17 236.01 L951.32 235.13 L951.49 234.12 L951.68 233.07 L951.87 231.99 L952.05 230.98 L952.23 230.01 L952.41 229.12 L952.59 228.31 L952.80 227.41 L953.01 226.56 L953.22 225.79 L953.45 224.97 L953.71 224.05 L953.96 223.12 L954.22 222.17 L954.48 221.25 L954.74 220.32 L955.01 219.39 L955.29 218.47 L955.58 217.56 L955.86 216.69 L956.15 215.84 L956.45 214.99 L956.75 214.15 L957.06 213.30 L957.38 212.45 L957.70 211.59 L958.04 210.72 L958.36 209.90 L958.71 209.06 L959.07 208.21 L959.43 207.34 L959.80 206.47 L960.14 205.62 L960.45 204.80 L960.73 204.00 L960.96 203.22 L961.21 202.22 L961.40 201.29 L961.56 200.37 L961.71 199.45 L961.90 198.42 L962.14 197.31 L962.32 196.58 L962.53 195.85 L962.76 195.07 L963.02 194.24 L963.31 193.37 L963.60 192.49 L963.91 191.58 L964.21 190.68 L964.53 189.74 L964.84 188.79 L965.14 187.82 L965.44 186.85 L965.68 186.04 L965.93 185.22 L966.18 184.37 L966.43 183.49 L966.69 182.59 L966.94 181.69 L967.20 180.78 L967.46 179.86 L967.71 178.94 L967.97 178.00 L968.22 177.07 L968.48 176.13 L968.73 175.19 L968.98 174.25 L969.24 173.32 L969.48 172.39 L969.72 171.48 L969.97 170.54 L970.22 169.59 L970.47 168.64 L970.73 167.66 L970.98 166.70 L971.23 165.73 L971.47 164.76 L971.72 163.79 L971.96 162.83 L972.21 161.85 L972.44 160.89 L972.67 159.94 L972.90 158.99 L973.11 158.07 L973.32 157.17 L973.53 156.26 L973.75 155.26 L973.96 154.29 L974.16 153.35 L974.34 152.44 L974.53 151.54 L974.70 150.64 L974.88 149.74 L975.05 148.84 L975.22 147.93 L975.40 147.00 L975.58 146.04 L975.78 145.02 L975.99 143.92 L976.20 142.83 L976.36 142.03 L976.51 141.24 L976.67 140.41 L976.84 139.54 L977.01 138.64 L977.18 137.73 L977.36 136.81 L977.53 135.87 L977.71 134.94 L977.89 133.98 L978.07 133.02 L978.26 132.05 L978.45 131.06 L978.63 130.09 L978.82 129.10 L979.01 128.12 L979.20 127.14 L979.40 126.15 L979.59 125.17 L979.79 124.19 L979.99 123.21 L980.19 122.23 L980.39 121.27 L980.59 120.33 L980.79 119.40 L980.99 118.46 L981.20 117.50 L981.42 116.52 L981.64 115.55 L981.86 114.57 L982.09 113.59 L982.31 112.60 L982.54 111.62 L982.77 110.63 L983.00 109.65 L983.23 108.67 L983.46 107.69 L983.69 106.71 L983.92 105.73 L984.15 104.77 L984.38 103.82 L984.60 102.87 L984.82 101.95 L985.04 101.03 L985.25 100.12 L985.46 99.23 L985.66 98.37 L985.84 97.56 L986.03 96.74 L986.27 95.70 L986.51 94.65 L986.74 93.63 L986.96 92.67 L987.18 91.72 L987.39 90.79 L987.59 89.89 L987.79 88.99 L988.00 88.09 L988.20 87.20 L988.40 86.31 L988.60 85.43 L988.80 84.55 L988.99 83.67 L989.19 82.80 L989.39 81.90 L989.62 80.92 L989.84 79.94 L990.05 78.99 L990.27 78.06 L990.48 77.13 L990.69 76.21 L990.89 75.29 L991.10 74.38 L991.31 73.45 L991.52 72.51 L991.74 71.55 L991.96 70.54 L992.18 69.52 L992.41 68.49 L992.59 67.63 L992.77 66.79 L992.96 65.91 L993.15 65.00 L993.35 64.08 L993.54 63.15 L993.74 62.21 L993.93 61.27 L994.13 60.32 L994.32 59.38 L994.52 58.42 L994.72 57.46 L994.92 56.49 L995.12 55.52 L995.32 54.56 L995.51 53.62 L995.71 52.68 L995.90 51.73 L996.10 50.80 L996.71 51.49 L997.30 52.15 L997.88 52.86 L998.48 53.63 L999.08 54.51 L999.47 55.17 L999.84 55.86 L1000.22 56.62 L1000.60 57.44 L1000.98 58.33 L1001.35 59.24 L1001.72 60.18 L1002.10 61.16 L1002.46 62.13 L1002.80 63.08 L1003.09 63.91 L1003.38 64.78 L1003.67 65.70 L1003.97 66.66 L1004.26 67.65 L1004.54 68.63 L1004.83 69.62 L1005.11 70.61 L1005.40 71.58 L1005.68 72.53 L1005.96 73.44 L1006.23 74.29 L1006.50 75.12 L1006.83 76.08 L1007.17 77.02 L1007.49 77.90 L1007.81 78.75 L1008.13 79.57 L1008.46 80.40 L1008.79 81.23 L1009.14 82.08 L1009.50 82.95 L1009.85 83.76 L1010.20 84.58 L1010.57 85.42 L1010.95 86.26 L1011.33 87.10 L1011.72 87.94 L1012.10 88.76 L1012.47 89.57 L1012.83 90.35 L1013.18 91.12 L1013.56 92.00 L1013.95 92.88 L1014.32 93.74 L1014.69 94.58 L1015.06 95.40 L1015.43 96.18 L1015.80 96.93 L1016.19 97.67 L1016.70 98.56 L1017.23 99.41 L1017.75 100.21 L1018.29 101.00 L1018.83 101.78 L1019.36 102.58 L1020.33 102.72 L1021.31 102.86 L1022.29 102.99 L1023.27 103.13 L1024.25 103.27 L1025.24 103.41 L1026.21 103.56 L1027.18 103.72 L1028.15 103.89 L1029.09 104.07 L1029.99 104.25 L1030.87 104.42 L1031.74 104.60 L1032.61 104.78 L1033.47 104.98 L1034.33 105.20 L1035.20 105.44 L1036.08 105.71 L1036.97 106.03 L1037.87 106.39 L1038.66 106.74 L1039.45 107.13 L1040.25 107.55 L1041.07 108.01 L1041.89 108.50 L1042.70 109.00 L1043.52 109.53 L1044.34 110.07 L1045.17 110.62 L1046.01 111.18 L1046.84 111.73 L1047.66 112.28 L1048.47 112.82 L1049.24 113.32 L1050.01 113.83 L1050.79 114.34 L1051.57 114.86 L1052.36 115.39 L1053.14 115.92 L1053.93 116.46 L1054.71 117.00 L1055.49 117.54 L1056.27 118.09 L1057.05 118.65 L1057.82 119.20 L1058.58 119.76 L1059.34 120.33 L1060.12 120.92 L1060.90 121.53 L1061.68 122.15 L1062.45 122.78 L1063.21 123.42 L1063.97 124.06 L1064.73 124.70 L1065.49 125.34 L1066.26 125.97 L1067.04 126.60 L1067.80 127.20 L1068.57 127.80 L1069.34 128.37 L1070.12 128.91 L1070.95 129.48 L1071.79 130.02 L1072.63 130.54 L1073.48 131.04 L1074.33 131.54 L1075.19 132.03 L1076.04 132.51 L1076.90 132.98 L1077.74 133.46 L1078.57 133.93 L1079.40 134.42 L1080.21 134.90 L1081.02 135.40 L1081.85 135.94 L1082.67 136.51 L1083.49 137.09 L1084.30 137.68 L1085.09 138.26 L1085.88 138.84 L1086.67 139.41 L1087.46 139.95 L1088.26 140.47 L1089.08 140.96 L1089.92 141.41 L1090.77 141.82 L1091.62 142.18 L1092.49 142.51 L1093.38 142.81 L1094.29 143.08 L1095.20 143.33 L1096.12 143.55 L1097.05 143.76 L1097.98 143.96 L1098.91 144.14 L1099.83 144.32 L1100.73 144.49 L1101.63 144.66 L1102.62 144.84 L1103.61 145.00 L1104.60 145.15 L1105.58 145.28 L1106.55 145.40 L1107.53 145.51 L1108.51 145.63 L1109.50 145.75 L1110.48 145.88 L1111.48 146.02 L1112.47 146.18 L1113.36 146.32 L1114.25 146.48 L1115.15 146.64 L1116.06 146.82 L1116.98 146.99 L1117.89 147.17 L1118.80 147.35 L1119.72 147.54 L1120.63 147.73 L1121.54 147.92 L1122.45 148.12 L1123.35 148.31 L1124.25 148.51 L1125.15 148.71 L1126.05 148.92 L1126.94 149.12 L1127.84 149.34 L1128.74 149.55 L1129.63 149.76 L1130.52 149.98 L1131.42 150.20 L1132.31 150.42 L1133.20 150.64 L1134.10 150.87 L1135.00 151.09 L1135.89 151.32 L1136.79 151.54 L1137.69 151.77 L1138.59 152.00 L1139.48 152.23 L1140.38 152.47 L1141.27 152.70 L1142.17 152.95 L1143.06 153.19 L1143.95 153.44 L1144.85 153.69 L1145.74 153.96 L1146.64 154.23 L1147.54 154.50 L1148.44 154.78 L1149.33 155.07 L1150.23 155.36 L1151.13 155.64 L1152.02 155.93 L1152.92 156.22 L1153.81 156.50 L1154.71 156.78 L1155.61 157.05 L1156.50 157.33 L1157.39 157.60 L1158.29 157.88 L1159.18 158.15 L1160.08 158.42 L1160.97 158.69 L1161.87 158.96 L1162.76 159.22 L1163.66 159.46 L1164.55 159.70 L1165.42 159.91 L1166.31 160.12 L1167.29 160.34 L1168.28 160.55 L1169.28 160.75 L1170.25 160.94 L1171.23 161.11 L1172.20 161.27 L1173.18 161.42 L1174.16 161.56 L1175.14 161.68 L1176.13 161.79 L1177.13 161.88 L1178.11 161.96 L1179.08 162.01 L1180.03 162.06 L1180.98 162.08 L1181.95 162.10 L1182.92 162.10 L1183.92 162.10 L1184.91 162.09 L1185.93 162.07 L1187.00 162.05 L1188.09 162.03 L1188.98 162.01 L1189.90 161.98 L1190.87 161.96 L1191.85 161.93 L1192.88 161.89 L1193.90 161.85 L1194.93 161.80 L1195.97 161.75 L1196.99 161.70 L1198.02 161.63 L1199.04 161.56 L1200.02 161.49 L1200.98 161.40 L1201.90 161.31 L1202.79 161.21 L1203.86 161.08 L1204.91 160.93 L1205.92 160.76 L1206.90 160.59 L1207.86 160.41 L1208.81 160.22 L1209.75 160.04 L1210.70 159.86 L1211.66 159.68 L1212.64 159.51 L1213.64 159.34 L1214.52 159.20 L1215.41 159.06 L1216.32 158.92 L1217.22 158.78 L1218.14 158.65 L1219.05 158.52 L1219.96 158.39 L1220.88 158.27 L1221.79 158.16 L1222.69 158.06 L1223.58 157.96 L1224.47 157.87 L1225.46 157.79 L1226.45 157.71 L1227.44 157.64 L1228.43 157.58 L1229.41 157.53 L1230.38 157.48 L1231.36 157.44 L1232.34 157.41 L1233.31 157.38 L1234.29 157.35 L1235.27 157.32 L1236.25 157.30 L1237.22 157.29 L1238.20 157.27 L1239.18 157.26 L1240.16 157.26 L1241.13 157.26 L1242.11 157.26 L1243.09 157.27 L1244.07 157.29 L1245.04 157.30 L1246.02 157.33 L1247.00 157.35 L1247.98 157.38 L1248.95 157.42 L1249.93 157.46 L1250.91 157.50 L1251.89 157.55 L1252.86 157.61 L1253.84 157.66 L1254.82 157.73 L1255.79 157.79 L1256.77 157.86 L1257.75 157.94 L1258.73 158.01 L1259.70 158.09 L1260.68 158.18 L1261.66 158.27 L1262.63 158.36 L1263.61 158.46 L1264.60 158.57 L1265.58 158.69 L1266.57 158.81 L1267.56 158.95 L1268.45 159.08 L1269.37 159.22 L1270.30 159.38 L1271.25 159.54 L1272.20 159.71 L1273.15 159.88 L1274.09 160.06 L1275.02 160.24 L1275.92 160.43 L1276.78 160.60 L1277.61 160.78 L1278.41 160.95 L1279.39 161.17 L1280.34 161.40 L1281.24 161.61 L1282.09 161.83 L1282.91 162.04 L1283.76 162.26 L1284.63 162.48 L1285.50 162.70" stroke-width="2.2" stroke-dasharray="2.2 2.14" stroke-linejoin="round"/>
</g>
<rect x="1169.90" y="22.50" width="107.00" height="66.50" fill="#fff" stroke="#262626" stroke-width="0.8"/>
<path d="M1171.20 34.40H1193.20" stroke="#000" stroke-width="1.7" fill="none"/>
<text x="1193.70" y="40.50" font-size="16" letter-spacing="0.47" fill="#000">D = 20 mm</text>
<path d="M1171.20 55.90H1193.20" stroke="#000" stroke-width="1.6" stroke-dasharray="5.4 5.1" fill="none"/>
<text x="1193.70" y="62.00" font-size="16" letter-spacing="0.47" fill="#000">D = 35 mm</text>
<path d="M1171.20 77.40H1193.20" stroke="#000" stroke-width="2.2" stroke-dasharray="2.2 2.14" fill="none"/>
<text x="1193.70" y="83.50" font-size="16" letter-spacing="0.47" fill="#000">D = 50 mm</text>
<path fill="#000" fill-rule="evenodd" transform="translate(1052.20 349.2) skewX(-20)" d="M-6.20 0.00a6.20 5.45 0 1 0 12.40 0a6.20 5.45 0 1 0 -12.40 0ZM-4.20 -0.10a4.75 4.35 0 1 0 9.50 0a4.75 4.35 0 1 0 -9.50 0Z"/>
<path d="M1053.45 340.3L1049.60 360.8" stroke="#000" stroke-width="1.35" fill="none"/>
<path d="M1067.70 346.6H1083.90M1067.70 351.5H1083.90" stroke="#000" stroke-width="0.95" fill="none"/>
<text class="cap" transform="translate(1091.30 355.6) scale(0.9 1)" font-size="26.1" fill="#000">0.8</text>
</svg></div></body></html>
